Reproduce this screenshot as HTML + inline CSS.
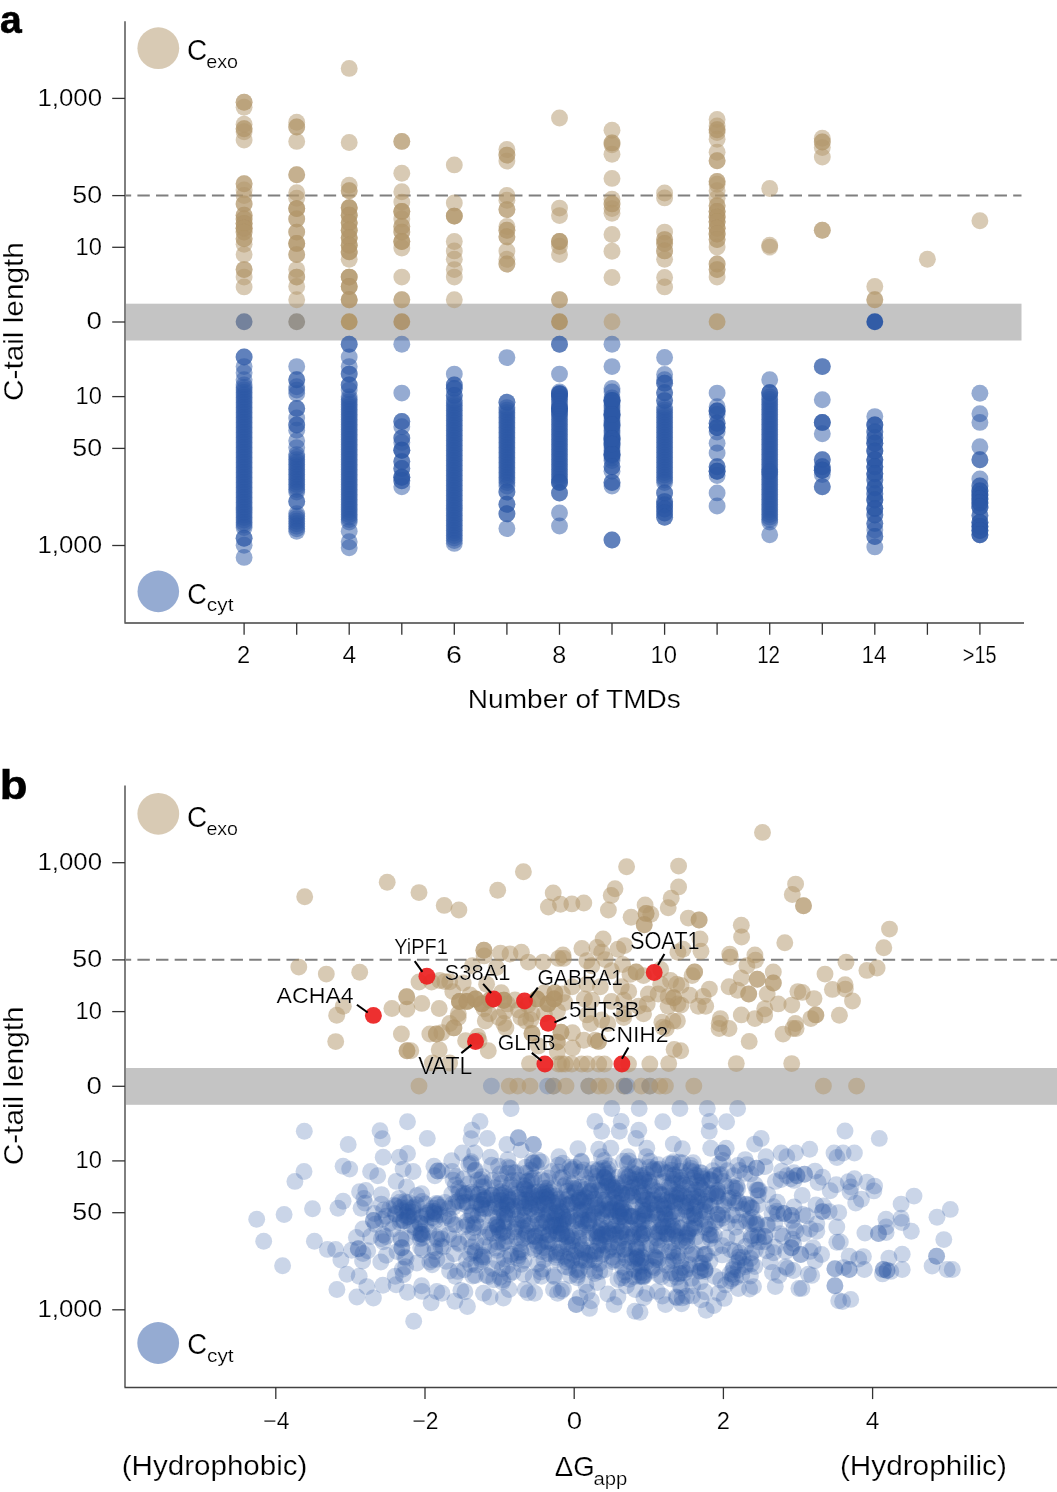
<!DOCTYPE html>
<html><head><meta charset="utf-8"><style>
html,body{margin:0;padding:0;background:#fff;overflow:hidden;}
svg{display:block;font-family:"Liberation Sans", sans-serif;will-change:transform;}
text{fill:#000;}
text.t{stroke:#fff;stroke-width:0.22px;}
</style></head><body>
<svg width="1057" height="1492" viewBox="0 0 1057 1492">
<rect width="1057" height="1492" fill="#fff"/>
<rect x="125.9" y="303.7" width="895.6" height="36.8" fill="#c4c4c4"/>
<line x1="125.9" y1="195.5" x2="1021.5" y2="195.5" stroke="#7f7f7f" stroke-width="2" stroke-dasharray="12.4 6.234" stroke-dashoffset="7.134"/>
<line x1="125" y1="21.2" x2="125" y2="622.6" stroke="#727272" stroke-width="1.8"/>
<line x1="124.4" y1="623.1" x2="1024" y2="623.1" stroke="#424242" stroke-width="1.5"/>
<line x1="112.2" y1="98.4" x2="125" y2="98.4" stroke="#333" stroke-width="1.3"/>
<text class="t" x="37.43" y="105.69" font-size="23.70" font-weight="normal" textLength="64.67" lengthAdjust="spacingAndGlyphs" >1,000</text>
<line x1="112.2" y1="195.6" x2="125" y2="195.6" stroke="#333" stroke-width="1.3"/>
<text class="t" x="72.33" y="202.89" font-size="23.70" font-weight="normal" textLength="29.81" lengthAdjust="spacingAndGlyphs" >50</text>
<line x1="112.2" y1="247.3" x2="125" y2="247.3" stroke="#333" stroke-width="1.3"/>
<text class="t" x="75.60" y="254.59" font-size="23.70" font-weight="normal" textLength="26.40" lengthAdjust="spacingAndGlyphs" >10</text>
<line x1="112.2" y1="322.0" x2="125" y2="322.0" stroke="#333" stroke-width="1.3"/>
<text class="t" x="86.59" y="329.29" font-size="23.70" font-weight="normal" textLength="15.41" lengthAdjust="spacingAndGlyphs" >0</text>
<line x1="112.2" y1="396.6" x2="125" y2="396.6" stroke="#333" stroke-width="1.3"/>
<text class="t" x="75.60" y="403.89" font-size="23.70" font-weight="normal" textLength="26.40" lengthAdjust="spacingAndGlyphs" >10</text>
<line x1="112.2" y1="448.4" x2="125" y2="448.4" stroke="#333" stroke-width="1.3"/>
<text class="t" x="72.33" y="455.69" font-size="23.70" font-weight="normal" textLength="29.81" lengthAdjust="spacingAndGlyphs" >50</text>
<line x1="112.2" y1="545.5" x2="125" y2="545.5" stroke="#333" stroke-width="1.3"/>
<text class="t" x="37.43" y="552.79" font-size="23.70" font-weight="normal" textLength="64.67" lengthAdjust="spacingAndGlyphs" >1,000</text>
<line x1="244.1" y1="623.1" x2="244.1" y2="634.8" stroke="#333" stroke-width="1.3"/>
<line x1="296.7" y1="623.1" x2="296.7" y2="634.8" stroke="#333" stroke-width="1.3"/>
<line x1="349.2" y1="623.1" x2="349.2" y2="634.8" stroke="#333" stroke-width="1.3"/>
<line x1="401.8" y1="623.1" x2="401.8" y2="634.8" stroke="#333" stroke-width="1.3"/>
<line x1="454.3" y1="623.1" x2="454.3" y2="634.8" stroke="#333" stroke-width="1.3"/>
<line x1="506.9" y1="623.1" x2="506.9" y2="634.8" stroke="#333" stroke-width="1.3"/>
<line x1="559.5" y1="623.1" x2="559.5" y2="634.8" stroke="#333" stroke-width="1.3"/>
<line x1="612.0" y1="623.1" x2="612.0" y2="634.8" stroke="#333" stroke-width="1.3"/>
<line x1="664.6" y1="623.1" x2="664.6" y2="634.8" stroke="#333" stroke-width="1.3"/>
<line x1="717.1" y1="623.1" x2="717.1" y2="634.8" stroke="#333" stroke-width="1.3"/>
<line x1="769.7" y1="623.1" x2="769.7" y2="634.8" stroke="#333" stroke-width="1.3"/>
<line x1="822.3" y1="623.1" x2="822.3" y2="634.8" stroke="#333" stroke-width="1.3"/>
<line x1="874.8" y1="623.1" x2="874.8" y2="634.8" stroke="#333" stroke-width="1.3"/>
<line x1="927.4" y1="623.1" x2="927.4" y2="634.8" stroke="#333" stroke-width="1.3"/>
<line x1="979.9" y1="623.1" x2="979.9" y2="634.8" stroke="#333" stroke-width="1.3"/>
<text class="t" x="236.92" y="662.99" font-size="23.70" font-weight="normal" textLength="13.18" lengthAdjust="spacingAndGlyphs" >2</text>
<text class="t" x="342.41" y="662.75" font-size="23.70" font-weight="normal" textLength="13.63" lengthAdjust="spacingAndGlyphs" >4</text>
<text class="t" x="445.97" y="662.99" font-size="23.70" font-weight="normal" textLength="15.96" lengthAdjust="spacingAndGlyphs" >6</text>
<text class="t" x="552.20" y="662.99" font-size="23.70" font-weight="normal" textLength="13.97" lengthAdjust="spacingAndGlyphs" >8</text>
<text class="t" x="650.49" y="662.99" font-size="23.70" font-weight="normal" textLength="26.52" lengthAdjust="spacingAndGlyphs" >10</text>
<text class="t" x="757.15" y="662.99" font-size="23.70" font-weight="normal" textLength="22.93" lengthAdjust="spacingAndGlyphs" >12</text>
<text class="t" x="861.49" y="662.75" font-size="23.70" font-weight="normal" textLength="25.14" lengthAdjust="spacingAndGlyphs" >14</text>
<text class="t" x="962.81" y="662.75" font-size="23.70" font-weight="normal" textLength="33.72" lengthAdjust="spacingAndGlyphs" >&gt;15</text>
<text class="t" x="467.86" y="708.34" font-size="25.54" font-weight="normal" textLength="213.01" lengthAdjust="spacingAndGlyphs" >Number of TMDs</text>
<text x="-0.07" y="33.41" font-size="39.27" font-weight="bold" textLength="21.73" lengthAdjust="spacingAndGlyphs" stroke="#000" stroke-width="0.6">a</text>
<text class="t" transform="translate(23.10,400.99) rotate(-90)" x="0" y="0" font-size="27.13" font-weight="normal" textLength="158.85" lengthAdjust="spacingAndGlyphs">C-tail length</text>
<circle cx="158.3" cy="48.2" r="20.9" fill="rgb(178,150,105)" fill-opacity="0.5"/>
<text class="t" x="187.10" y="59.61" font-size="28.87" font-weight="normal" textLength="20.18" lengthAdjust="spacingAndGlyphs" >C</text>
<text class="t" x="206.21" y="67.71" font-size="19.09" font-weight="normal" textLength="31.83" lengthAdjust="spacingAndGlyphs" >exo</text>
<circle cx="158.3" cy="591.4" r="20.8" fill="rgb(44,88,165)" fill-opacity="0.5"/>
<text class="t" x="187.34" y="603.51" font-size="28.73" font-weight="normal" textLength="19.60" lengthAdjust="spacingAndGlyphs" >C</text>
<text class="t" x="206.87" y="611.20" font-size="19.06" font-weight="normal" textLength="26.60" lengthAdjust="spacingAndGlyphs" >cyt</text>
<g fill="rgb(178,150,105)" fill-opacity="0.5"><circle cx="244.1" cy="102.2" r="8.45"/><circle cx="244.1" cy="102.2" r="8.45"/><circle cx="244.1" cy="107.3" r="8.45"/><circle cx="244.1" cy="124.2" r="8.45"/><circle cx="244.1" cy="128.8" r="8.45"/><circle cx="244.1" cy="128.8" r="8.45"/><circle cx="244.1" cy="131.7" r="8.45"/><circle cx="244.1" cy="140.1" r="8.45"/><circle cx="244.1" cy="183.7" r="8.45"/><circle cx="244.1" cy="183.7" r="8.45"/><circle cx="244.1" cy="189.9" r="8.45"/><circle cx="244.1" cy="195.5" r="8.45"/><circle cx="244.1" cy="203.9" r="8.45"/><circle cx="244.1" cy="203.9" r="8.45"/><circle cx="244.1" cy="215.2" r="8.45"/><circle cx="244.1" cy="215.2" r="8.45"/><circle cx="244.1" cy="218.9" r="8.45"/><circle cx="244.1" cy="218.9" r="8.45"/><circle cx="244.1" cy="223.6" r="8.45"/><circle cx="244.1" cy="223.6" r="8.45"/><circle cx="244.1" cy="223.6" r="8.45"/><circle cx="244.1" cy="228.3" r="8.45"/><circle cx="244.1" cy="228.3" r="8.45"/><circle cx="244.1" cy="228.3" r="8.45"/><circle cx="244.1" cy="232.1" r="8.45"/><circle cx="244.1" cy="232.1" r="8.45"/><circle cx="244.1" cy="238.7" r="8.45"/><circle cx="244.1" cy="238.7" r="8.45"/><circle cx="244.1" cy="244.3" r="8.45"/><circle cx="244.1" cy="254.6" r="8.45"/><circle cx="244.1" cy="269.6" r="8.45"/><circle cx="244.1" cy="269.6" r="8.45"/><circle cx="244.1" cy="277.1" r="8.45"/><circle cx="244.1" cy="286.9" r="8.45"/><circle cx="296.7" cy="122.3" r="8.45"/><circle cx="296.7" cy="127.0" r="8.45"/><circle cx="296.7" cy="127.0" r="8.45"/><circle cx="296.7" cy="141.4" r="8.45"/><circle cx="296.7" cy="174.8" r="8.45"/><circle cx="296.7" cy="174.8" r="8.45"/><circle cx="296.7" cy="192.7" r="8.45"/><circle cx="296.7" cy="198.3" r="8.45"/><circle cx="296.7" cy="208.6" r="8.45"/><circle cx="296.7" cy="208.6" r="8.45"/><circle cx="296.7" cy="208.6" r="8.45"/><circle cx="296.7" cy="219.0" r="8.45"/><circle cx="296.7" cy="219.0" r="8.45"/><circle cx="296.7" cy="232.1" r="8.45"/><circle cx="296.7" cy="232.1" r="8.45"/><circle cx="296.7" cy="243.4" r="8.45"/><circle cx="296.7" cy="243.4" r="8.45"/><circle cx="296.7" cy="243.4" r="8.45"/><circle cx="296.7" cy="254.6" r="8.45"/><circle cx="296.7" cy="254.6" r="8.45"/><circle cx="296.7" cy="269.6" r="8.45"/><circle cx="296.7" cy="277.1" r="8.45"/><circle cx="296.7" cy="277.1" r="8.45"/><circle cx="296.7" cy="286.5" r="8.45"/><circle cx="296.7" cy="299.7" r="8.45"/><circle cx="349.2" cy="68.4" r="8.45"/><circle cx="349.2" cy="142.5" r="8.45"/><circle cx="349.2" cy="185.2" r="8.45"/><circle cx="349.2" cy="190.8" r="8.45"/><circle cx="349.2" cy="190.8" r="8.45"/><circle cx="349.2" cy="207.7" r="8.45"/><circle cx="349.2" cy="207.7" r="8.45"/><circle cx="349.2" cy="207.7" r="8.45"/><circle cx="349.2" cy="215.2" r="8.45"/><circle cx="349.2" cy="215.2" r="8.45"/><circle cx="349.2" cy="215.2" r="8.45"/><circle cx="349.2" cy="222.7" r="8.45"/><circle cx="349.2" cy="222.7" r="8.45"/><circle cx="349.2" cy="222.7" r="8.45"/><circle cx="349.2" cy="230.2" r="8.45"/><circle cx="349.2" cy="230.2" r="8.45"/><circle cx="349.2" cy="230.2" r="8.45"/><circle cx="349.2" cy="237.7" r="8.45"/><circle cx="349.2" cy="237.7" r="8.45"/><circle cx="349.2" cy="237.7" r="8.45"/><circle cx="349.2" cy="245.2" r="8.45"/><circle cx="349.2" cy="245.2" r="8.45"/><circle cx="349.2" cy="245.2" r="8.45"/><circle cx="349.2" cy="251.8" r="8.45"/><circle cx="349.2" cy="251.8" r="8.45"/><circle cx="349.2" cy="251.8" r="8.45"/><circle cx="349.2" cy="259.3" r="8.45"/><circle cx="349.2" cy="277.1" r="8.45"/><circle cx="349.2" cy="277.1" r="8.45"/><circle cx="349.2" cy="277.1" r="8.45"/><circle cx="349.2" cy="286.5" r="8.45"/><circle cx="349.2" cy="286.5" r="8.45"/><circle cx="349.2" cy="286.5" r="8.45"/><circle cx="349.2" cy="299.7" r="8.45"/><circle cx="349.2" cy="299.7" r="8.45"/><circle cx="349.2" cy="299.7" r="8.45"/><circle cx="401.8" cy="141.4" r="8.45"/><circle cx="401.8" cy="141.4" r="8.45"/><circle cx="401.8" cy="173.3" r="8.45"/><circle cx="401.8" cy="191.7" r="8.45"/><circle cx="401.8" cy="202.1" r="8.45"/><circle cx="401.8" cy="211.4" r="8.45"/><circle cx="401.8" cy="211.4" r="8.45"/><circle cx="401.8" cy="211.4" r="8.45"/><circle cx="401.8" cy="219.0" r="8.45"/><circle cx="401.8" cy="226.5" r="8.45"/><circle cx="401.8" cy="226.5" r="8.45"/><circle cx="401.8" cy="232.1" r="8.45"/><circle cx="401.8" cy="232.1" r="8.45"/><circle cx="401.8" cy="241.5" r="8.45"/><circle cx="401.8" cy="241.5" r="8.45"/><circle cx="401.8" cy="241.5" r="8.45"/><circle cx="401.8" cy="248.0" r="8.45"/><circle cx="401.8" cy="277.1" r="8.45"/><circle cx="401.8" cy="299.7" r="8.45"/><circle cx="401.8" cy="299.7" r="8.45"/><circle cx="454.3" cy="164.9" r="8.45"/><circle cx="454.3" cy="203.0" r="8.45"/><circle cx="454.3" cy="216.1" r="8.45"/><circle cx="454.3" cy="216.1" r="8.45"/><circle cx="454.3" cy="216.1" r="8.45"/><circle cx="454.3" cy="241.5" r="8.45"/><circle cx="454.3" cy="250.9" r="8.45"/><circle cx="454.3" cy="259.3" r="8.45"/><circle cx="454.3" cy="269.6" r="8.45"/><circle cx="454.3" cy="277.1" r="8.45"/><circle cx="454.3" cy="299.7" r="8.45"/><circle cx="506.9" cy="149.5" r="8.45"/><circle cx="506.9" cy="155.1" r="8.45"/><circle cx="506.9" cy="155.1" r="8.45"/><circle cx="506.9" cy="161.1" r="8.45"/><circle cx="506.9" cy="195.5" r="8.45"/><circle cx="506.9" cy="200.2" r="8.45"/><circle cx="506.9" cy="209.6" r="8.45"/><circle cx="506.9" cy="209.6" r="8.45"/><circle cx="506.9" cy="226.5" r="8.45"/><circle cx="506.9" cy="230.2" r="8.45"/><circle cx="506.9" cy="230.2" r="8.45"/><circle cx="506.9" cy="236.8" r="8.45"/><circle cx="506.9" cy="236.8" r="8.45"/><circle cx="506.9" cy="250.9" r="8.45"/><circle cx="506.9" cy="259.3" r="8.45"/><circle cx="506.9" cy="264.0" r="8.45"/><circle cx="506.9" cy="264.0" r="8.45"/><circle cx="559.5" cy="118.0" r="8.45"/><circle cx="559.5" cy="208.1" r="8.45"/><circle cx="559.5" cy="215.6" r="8.45"/><circle cx="559.5" cy="241.5" r="8.45"/><circle cx="559.5" cy="241.5" r="8.45"/><circle cx="559.5" cy="241.5" r="8.45"/><circle cx="559.5" cy="246.2" r="8.45"/><circle cx="559.5" cy="254.6" r="8.45"/><circle cx="559.5" cy="299.7" r="8.45"/><circle cx="559.5" cy="299.7" r="8.45"/><circle cx="612.0" cy="130.3" r="8.45"/><circle cx="612.0" cy="142.9" r="8.45"/><circle cx="612.0" cy="142.9" r="8.45"/><circle cx="612.0" cy="144.8" r="8.45"/><circle cx="612.0" cy="154.2" r="8.45"/><circle cx="612.0" cy="178.4" r="8.45"/><circle cx="612.0" cy="199.2" r="8.45"/><circle cx="612.0" cy="203.9" r="8.45"/><circle cx="612.0" cy="203.9" r="8.45"/><circle cx="612.0" cy="208.6" r="8.45"/><circle cx="612.0" cy="213.3" r="8.45"/><circle cx="612.0" cy="234.5" r="8.45"/><circle cx="612.0" cy="251.2" r="8.45"/><circle cx="612.0" cy="277.5" r="8.45"/><circle cx="664.6" cy="193.0" r="8.45"/><circle cx="664.6" cy="197.9" r="8.45"/><circle cx="664.6" cy="232.1" r="8.45"/><circle cx="664.6" cy="239.6" r="8.45"/><circle cx="664.6" cy="239.6" r="8.45"/><circle cx="664.6" cy="243.4" r="8.45"/><circle cx="664.6" cy="243.4" r="8.45"/><circle cx="664.6" cy="250.9" r="8.45"/><circle cx="664.6" cy="250.9" r="8.45"/><circle cx="664.6" cy="259.3" r="8.45"/><circle cx="664.6" cy="277.5" r="8.45"/><circle cx="664.6" cy="286.9" r="8.45"/><circle cx="717.1" cy="119.5" r="8.45"/><circle cx="717.1" cy="126.0" r="8.45"/><circle cx="717.1" cy="129.8" r="8.45"/><circle cx="717.1" cy="129.8" r="8.45"/><circle cx="717.1" cy="132.6" r="8.45"/><circle cx="717.1" cy="139.2" r="8.45"/><circle cx="717.1" cy="152.3" r="8.45"/><circle cx="717.1" cy="160.8" r="8.45"/><circle cx="717.1" cy="160.8" r="8.45"/><circle cx="717.1" cy="181.4" r="8.45"/><circle cx="717.1" cy="181.4" r="8.45"/><circle cx="717.1" cy="184.2" r="8.45"/><circle cx="717.1" cy="190.8" r="8.45"/><circle cx="717.1" cy="198.3" r="8.45"/><circle cx="717.1" cy="205.8" r="8.45"/><circle cx="717.1" cy="205.8" r="8.45"/><circle cx="717.1" cy="211.4" r="8.45"/><circle cx="717.1" cy="211.4" r="8.45"/><circle cx="717.1" cy="211.4" r="8.45"/><circle cx="717.1" cy="217.1" r="8.45"/><circle cx="717.1" cy="217.1" r="8.45"/><circle cx="717.1" cy="217.1" r="8.45"/><circle cx="717.1" cy="221.8" r="8.45"/><circle cx="717.1" cy="221.8" r="8.45"/><circle cx="717.1" cy="221.8" r="8.45"/><circle cx="717.1" cy="228.3" r="8.45"/><circle cx="717.1" cy="228.3" r="8.45"/><circle cx="717.1" cy="228.3" r="8.45"/><circle cx="717.1" cy="234.0" r="8.45"/><circle cx="717.1" cy="234.0" r="8.45"/><circle cx="717.1" cy="234.0" r="8.45"/><circle cx="717.1" cy="239.6" r="8.45"/><circle cx="717.1" cy="239.6" r="8.45"/><circle cx="717.1" cy="247.1" r="8.45"/><circle cx="717.1" cy="264.0" r="8.45"/><circle cx="717.1" cy="264.0" r="8.45"/><circle cx="717.1" cy="269.6" r="8.45"/><circle cx="717.1" cy="269.6" r="8.45"/><circle cx="717.1" cy="277.1" r="8.45"/><circle cx="769.7" cy="188.5" r="8.45"/><circle cx="769.7" cy="245.2" r="8.45"/><circle cx="769.7" cy="247.1" r="8.45"/><circle cx="822.3" cy="138.2" r="8.45"/><circle cx="822.3" cy="142.0" r="8.45"/><circle cx="822.3" cy="142.0" r="8.45"/><circle cx="822.3" cy="147.6" r="8.45"/><circle cx="822.3" cy="157.0" r="8.45"/><circle cx="822.3" cy="230.2" r="8.45"/><circle cx="822.3" cy="230.2" r="8.45"/><circle cx="874.8" cy="286.5" r="8.45"/><circle cx="874.8" cy="299.7" r="8.45"/><circle cx="874.8" cy="299.7" r="8.45"/><circle cx="927.4" cy="259.3" r="8.45"/><circle cx="979.9" cy="220.8" r="8.45"/></g>
<g fill="rgb(44,88,165)" fill-opacity="0.5"><circle cx="244.1" cy="357.0" r="8.45"/><circle cx="244.1" cy="357.0" r="8.45"/><circle cx="244.1" cy="366.6" r="8.45"/><circle cx="244.1" cy="372.7" r="8.45"/><circle cx="244.1" cy="379.7" r="8.45"/><circle cx="244.1" cy="385.0" r="8.45"/><circle cx="244.1" cy="387.5" r="8.45"/><circle cx="244.1" cy="390.0" r="8.45"/><circle cx="244.1" cy="392.5" r="8.45"/><circle cx="244.1" cy="395.0" r="8.45"/><circle cx="244.1" cy="397.5" r="8.45"/><circle cx="244.1" cy="400.0" r="8.45"/><circle cx="244.1" cy="402.5" r="8.45"/><circle cx="244.1" cy="405.0" r="8.45"/><circle cx="244.1" cy="407.5" r="8.45"/><circle cx="244.1" cy="410.0" r="8.45"/><circle cx="244.1" cy="412.5" r="8.45"/><circle cx="244.1" cy="415.0" r="8.45"/><circle cx="244.1" cy="417.5" r="8.45"/><circle cx="244.1" cy="420.0" r="8.45"/><circle cx="244.1" cy="422.5" r="8.45"/><circle cx="244.1" cy="425.0" r="8.45"/><circle cx="244.1" cy="427.5" r="8.45"/><circle cx="244.1" cy="430.0" r="8.45"/><circle cx="244.1" cy="432.5" r="8.45"/><circle cx="244.1" cy="435.0" r="8.45"/><circle cx="244.1" cy="437.5" r="8.45"/><circle cx="244.1" cy="440.0" r="8.45"/><circle cx="244.1" cy="442.5" r="8.45"/><circle cx="244.1" cy="445.0" r="8.45"/><circle cx="244.1" cy="447.5" r="8.45"/><circle cx="244.1" cy="450.0" r="8.45"/><circle cx="244.1" cy="452.5" r="8.45"/><circle cx="244.1" cy="455.0" r="8.45"/><circle cx="244.1" cy="457.5" r="8.45"/><circle cx="244.1" cy="460.0" r="8.45"/><circle cx="244.1" cy="462.5" r="8.45"/><circle cx="244.1" cy="465.0" r="8.45"/><circle cx="244.1" cy="467.5" r="8.45"/><circle cx="244.1" cy="470.0" r="8.45"/><circle cx="244.1" cy="472.5" r="8.45"/><circle cx="244.1" cy="475.0" r="8.45"/><circle cx="244.1" cy="477.5" r="8.45"/><circle cx="244.1" cy="480.0" r="8.45"/><circle cx="244.1" cy="482.5" r="8.45"/><circle cx="244.1" cy="485.0" r="8.45"/><circle cx="244.1" cy="487.5" r="8.45"/><circle cx="244.1" cy="490.0" r="8.45"/><circle cx="244.1" cy="492.5" r="8.45"/><circle cx="244.1" cy="495.0" r="8.45"/><circle cx="244.1" cy="497.5" r="8.45"/><circle cx="244.1" cy="500.0" r="8.45"/><circle cx="244.1" cy="502.5" r="8.45"/><circle cx="244.1" cy="505.0" r="8.45"/><circle cx="244.1" cy="507.5" r="8.45"/><circle cx="244.1" cy="510.0" r="8.45"/><circle cx="244.1" cy="512.5" r="8.45"/><circle cx="244.1" cy="515.0" r="8.45"/><circle cx="244.1" cy="517.5" r="8.45"/><circle cx="244.1" cy="520.0" r="8.45"/><circle cx="244.1" cy="522.5" r="8.45"/><circle cx="244.1" cy="525.0" r="8.45"/><circle cx="244.1" cy="527.5" r="8.45"/><circle cx="244.1" cy="538.2" r="8.45"/><circle cx="244.1" cy="538.2" r="8.45"/><circle cx="244.1" cy="545.2" r="8.45"/><circle cx="244.1" cy="557.4" r="8.45"/><circle cx="296.7" cy="366.6" r="8.45"/><circle cx="296.7" cy="379.7" r="8.45"/><circle cx="296.7" cy="379.7" r="8.45"/><circle cx="296.7" cy="386.7" r="8.45"/><circle cx="296.7" cy="390.1" r="8.45"/><circle cx="296.7" cy="393.6" r="8.45"/><circle cx="296.7" cy="408.4" r="8.45"/><circle cx="296.7" cy="408.4" r="8.45"/><circle cx="296.7" cy="418.0" r="8.45"/><circle cx="296.7" cy="425.0" r="8.45"/><circle cx="296.7" cy="425.0" r="8.45"/><circle cx="296.7" cy="430.2" r="8.45"/><circle cx="296.7" cy="440.7" r="8.45"/><circle cx="296.7" cy="447.6" r="8.45"/><circle cx="296.7" cy="454.6" r="8.45"/><circle cx="296.7" cy="457.1" r="8.45"/><circle cx="296.7" cy="459.6" r="8.45"/><circle cx="296.7" cy="462.1" r="8.45"/><circle cx="296.7" cy="464.6" r="8.45"/><circle cx="296.7" cy="467.1" r="8.45"/><circle cx="296.7" cy="469.6" r="8.45"/><circle cx="296.7" cy="472.1" r="8.45"/><circle cx="296.7" cy="474.6" r="8.45"/><circle cx="296.7" cy="477.1" r="8.45"/><circle cx="296.7" cy="479.6" r="8.45"/><circle cx="296.7" cy="482.1" r="8.45"/><circle cx="296.7" cy="484.6" r="8.45"/><circle cx="296.7" cy="487.1" r="8.45"/><circle cx="296.7" cy="489.6" r="8.45"/><circle cx="296.7" cy="492.1" r="8.45"/><circle cx="296.7" cy="501.6" r="8.45"/><circle cx="296.7" cy="501.6" r="8.45"/><circle cx="296.7" cy="513.8" r="8.45"/><circle cx="296.7" cy="516.3" r="8.45"/><circle cx="296.7" cy="518.8" r="8.45"/><circle cx="296.7" cy="521.3" r="8.45"/><circle cx="296.7" cy="523.8" r="8.45"/><circle cx="296.7" cy="526.3" r="8.45"/><circle cx="296.7" cy="528.8" r="8.45"/><circle cx="296.7" cy="531.3" r="8.45"/><circle cx="349.2" cy="344.3" r="8.45"/><circle cx="349.2" cy="344.3" r="8.45"/><circle cx="349.2" cy="357.0" r="8.45"/><circle cx="349.2" cy="366.6" r="8.45"/><circle cx="349.2" cy="374.1" r="8.45"/><circle cx="349.2" cy="374.1" r="8.45"/><circle cx="349.2" cy="384.9" r="8.45"/><circle cx="349.2" cy="384.9" r="8.45"/><circle cx="349.2" cy="390.1" r="8.45"/><circle cx="349.2" cy="397.0" r="8.45"/><circle cx="349.2" cy="399.5" r="8.45"/><circle cx="349.2" cy="402.0" r="8.45"/><circle cx="349.2" cy="404.5" r="8.45"/><circle cx="349.2" cy="407.0" r="8.45"/><circle cx="349.2" cy="409.5" r="8.45"/><circle cx="349.2" cy="412.0" r="8.45"/><circle cx="349.2" cy="414.5" r="8.45"/><circle cx="349.2" cy="417.0" r="8.45"/><circle cx="349.2" cy="419.5" r="8.45"/><circle cx="349.2" cy="422.0" r="8.45"/><circle cx="349.2" cy="424.5" r="8.45"/><circle cx="349.2" cy="427.0" r="8.45"/><circle cx="349.2" cy="429.5" r="8.45"/><circle cx="349.2" cy="432.0" r="8.45"/><circle cx="349.2" cy="434.5" r="8.45"/><circle cx="349.2" cy="437.0" r="8.45"/><circle cx="349.2" cy="439.5" r="8.45"/><circle cx="349.2" cy="442.0" r="8.45"/><circle cx="349.2" cy="444.5" r="8.45"/><circle cx="349.2" cy="447.0" r="8.45"/><circle cx="349.2" cy="449.5" r="8.45"/><circle cx="349.2" cy="452.0" r="8.45"/><circle cx="349.2" cy="454.5" r="8.45"/><circle cx="349.2" cy="457.0" r="8.45"/><circle cx="349.2" cy="459.5" r="8.45"/><circle cx="349.2" cy="462.0" r="8.45"/><circle cx="349.2" cy="464.5" r="8.45"/><circle cx="349.2" cy="467.0" r="8.45"/><circle cx="349.2" cy="469.5" r="8.45"/><circle cx="349.2" cy="472.0" r="8.45"/><circle cx="349.2" cy="474.5" r="8.45"/><circle cx="349.2" cy="477.0" r="8.45"/><circle cx="349.2" cy="479.5" r="8.45"/><circle cx="349.2" cy="482.0" r="8.45"/><circle cx="349.2" cy="484.5" r="8.45"/><circle cx="349.2" cy="487.0" r="8.45"/><circle cx="349.2" cy="489.5" r="8.45"/><circle cx="349.2" cy="492.0" r="8.45"/><circle cx="349.2" cy="494.5" r="8.45"/><circle cx="349.2" cy="497.0" r="8.45"/><circle cx="349.2" cy="499.5" r="8.45"/><circle cx="349.2" cy="502.0" r="8.45"/><circle cx="349.2" cy="504.5" r="8.45"/><circle cx="349.2" cy="507.0" r="8.45"/><circle cx="349.2" cy="509.5" r="8.45"/><circle cx="349.2" cy="512.0" r="8.45"/><circle cx="349.2" cy="514.5" r="8.45"/><circle cx="349.2" cy="517.0" r="8.45"/><circle cx="349.2" cy="519.5" r="8.45"/><circle cx="349.2" cy="522.0" r="8.45"/><circle cx="349.2" cy="531.3" r="8.45"/><circle cx="349.2" cy="541.7" r="8.45"/><circle cx="349.2" cy="547.8" r="8.45"/><circle cx="401.8" cy="344.3" r="8.45"/><circle cx="401.8" cy="393.1" r="8.45"/><circle cx="401.8" cy="421.5" r="8.45"/><circle cx="401.8" cy="421.5" r="8.45"/><circle cx="401.8" cy="426.7" r="8.45"/><circle cx="401.8" cy="438.0" r="8.45"/><circle cx="401.8" cy="438.0" r="8.45"/><circle cx="401.8" cy="442.4" r="8.45"/><circle cx="401.8" cy="450.2" r="8.45"/><circle cx="401.8" cy="450.2" r="8.45"/><circle cx="401.8" cy="450.2" r="8.45"/><circle cx="401.8" cy="461.6" r="8.45"/><circle cx="401.8" cy="461.6" r="8.45"/><circle cx="401.8" cy="468.5" r="8.45"/><circle cx="401.8" cy="468.5" r="8.45"/><circle cx="401.8" cy="477.2" r="8.45"/><circle cx="401.8" cy="477.2" r="8.45"/><circle cx="401.8" cy="477.2" r="8.45"/><circle cx="401.8" cy="480.7" r="8.45"/><circle cx="401.8" cy="480.7" r="8.45"/><circle cx="401.8" cy="486.8" r="8.45"/><circle cx="454.3" cy="374.1" r="8.45"/><circle cx="454.3" cy="384.9" r="8.45"/><circle cx="454.3" cy="384.9" r="8.45"/><circle cx="454.3" cy="388.4" r="8.45"/><circle cx="454.3" cy="388.4" r="8.45"/><circle cx="454.3" cy="395.4" r="8.45"/><circle cx="454.3" cy="395.4" r="8.45"/><circle cx="454.3" cy="400.6" r="8.45"/><circle cx="454.3" cy="403.1" r="8.45"/><circle cx="454.3" cy="405.6" r="8.45"/><circle cx="454.3" cy="408.1" r="8.45"/><circle cx="454.3" cy="410.6" r="8.45"/><circle cx="454.3" cy="413.1" r="8.45"/><circle cx="454.3" cy="415.6" r="8.45"/><circle cx="454.3" cy="418.1" r="8.45"/><circle cx="454.3" cy="420.6" r="8.45"/><circle cx="454.3" cy="423.1" r="8.45"/><circle cx="454.3" cy="425.6" r="8.45"/><circle cx="454.3" cy="428.1" r="8.45"/><circle cx="454.3" cy="430.6" r="8.45"/><circle cx="454.3" cy="433.1" r="8.45"/><circle cx="454.3" cy="435.6" r="8.45"/><circle cx="454.3" cy="438.1" r="8.45"/><circle cx="454.3" cy="440.6" r="8.45"/><circle cx="454.3" cy="443.1" r="8.45"/><circle cx="454.3" cy="445.6" r="8.45"/><circle cx="454.3" cy="448.1" r="8.45"/><circle cx="454.3" cy="450.6" r="8.45"/><circle cx="454.3" cy="453.1" r="8.45"/><circle cx="454.3" cy="455.6" r="8.45"/><circle cx="454.3" cy="458.1" r="8.45"/><circle cx="454.3" cy="460.6" r="8.45"/><circle cx="454.3" cy="463.1" r="8.45"/><circle cx="454.3" cy="465.6" r="8.45"/><circle cx="454.3" cy="468.1" r="8.45"/><circle cx="454.3" cy="470.6" r="8.45"/><circle cx="454.3" cy="473.1" r="8.45"/><circle cx="454.3" cy="475.6" r="8.45"/><circle cx="454.3" cy="478.1" r="8.45"/><circle cx="454.3" cy="480.6" r="8.45"/><circle cx="454.3" cy="483.1" r="8.45"/><circle cx="454.3" cy="485.6" r="8.45"/><circle cx="454.3" cy="488.1" r="8.45"/><circle cx="454.3" cy="490.6" r="8.45"/><circle cx="454.3" cy="493.1" r="8.45"/><circle cx="454.3" cy="495.6" r="8.45"/><circle cx="454.3" cy="498.1" r="8.45"/><circle cx="454.3" cy="500.6" r="8.45"/><circle cx="454.3" cy="503.1" r="8.45"/><circle cx="454.3" cy="505.6" r="8.45"/><circle cx="454.3" cy="508.1" r="8.45"/><circle cx="454.3" cy="510.6" r="8.45"/><circle cx="454.3" cy="513.1" r="8.45"/><circle cx="454.3" cy="515.6" r="8.45"/><circle cx="454.3" cy="518.1" r="8.45"/><circle cx="454.3" cy="520.6" r="8.45"/><circle cx="454.3" cy="523.1" r="8.45"/><circle cx="454.3" cy="525.6" r="8.45"/><circle cx="454.3" cy="528.1" r="8.45"/><circle cx="454.3" cy="530.6" r="8.45"/><circle cx="454.3" cy="533.1" r="8.45"/><circle cx="454.3" cy="535.6" r="8.45"/><circle cx="454.3" cy="538.1" r="8.45"/><circle cx="454.3" cy="540.6" r="8.45"/><circle cx="454.3" cy="543.4" r="8.45"/><circle cx="506.9" cy="357.6" r="8.45"/><circle cx="506.9" cy="402.3" r="8.45"/><circle cx="506.9" cy="402.3" r="8.45"/><circle cx="506.9" cy="407.6" r="8.45"/><circle cx="506.9" cy="410.1" r="8.45"/><circle cx="506.9" cy="412.6" r="8.45"/><circle cx="506.9" cy="415.1" r="8.45"/><circle cx="506.9" cy="417.6" r="8.45"/><circle cx="506.9" cy="420.1" r="8.45"/><circle cx="506.9" cy="422.6" r="8.45"/><circle cx="506.9" cy="425.1" r="8.45"/><circle cx="506.9" cy="427.6" r="8.45"/><circle cx="506.9" cy="430.1" r="8.45"/><circle cx="506.9" cy="432.6" r="8.45"/><circle cx="506.9" cy="435.1" r="8.45"/><circle cx="506.9" cy="437.6" r="8.45"/><circle cx="506.9" cy="440.1" r="8.45"/><circle cx="506.9" cy="442.6" r="8.45"/><circle cx="506.9" cy="445.1" r="8.45"/><circle cx="506.9" cy="447.6" r="8.45"/><circle cx="506.9" cy="450.1" r="8.45"/><circle cx="506.9" cy="452.6" r="8.45"/><circle cx="506.9" cy="455.1" r="8.45"/><circle cx="506.9" cy="457.6" r="8.45"/><circle cx="506.9" cy="460.1" r="8.45"/><circle cx="506.9" cy="462.6" r="8.45"/><circle cx="506.9" cy="465.1" r="8.45"/><circle cx="506.9" cy="467.6" r="8.45"/><circle cx="506.9" cy="470.1" r="8.45"/><circle cx="506.9" cy="472.6" r="8.45"/><circle cx="506.9" cy="475.1" r="8.45"/><circle cx="506.9" cy="477.6" r="8.45"/><circle cx="506.9" cy="480.1" r="8.45"/><circle cx="506.9" cy="482.6" r="8.45"/><circle cx="506.9" cy="486.0" r="8.45"/><circle cx="506.9" cy="492.0" r="8.45"/><circle cx="506.9" cy="492.0" r="8.45"/><circle cx="506.9" cy="504.3" r="8.45"/><circle cx="506.9" cy="504.3" r="8.45"/><circle cx="506.9" cy="513.8" r="8.45"/><circle cx="506.9" cy="513.8" r="8.45"/><circle cx="506.9" cy="528.6" r="8.45"/><circle cx="559.5" cy="344.3" r="8.45"/><circle cx="559.5" cy="344.3" r="8.45"/><circle cx="559.5" cy="374.1" r="8.45"/><circle cx="559.5" cy="393.6" r="8.45"/><circle cx="559.5" cy="393.6" r="8.45"/><circle cx="559.5" cy="393.6" r="8.45"/><circle cx="559.5" cy="397.1" r="8.45"/><circle cx="559.5" cy="408.4" r="8.45"/><circle cx="559.5" cy="408.4" r="8.45"/><circle cx="559.5" cy="408.4" r="8.45"/><circle cx="559.5" cy="412.8" r="8.45"/><circle cx="559.5" cy="392.0" r="8.45"/><circle cx="559.5" cy="394.5" r="8.45"/><circle cx="559.5" cy="397.0" r="8.45"/><circle cx="559.5" cy="399.5" r="8.45"/><circle cx="559.5" cy="402.0" r="8.45"/><circle cx="559.5" cy="404.5" r="8.45"/><circle cx="559.5" cy="407.0" r="8.45"/><circle cx="559.5" cy="409.5" r="8.45"/><circle cx="559.5" cy="412.0" r="8.45"/><circle cx="559.5" cy="414.5" r="8.45"/><circle cx="559.5" cy="417.0" r="8.45"/><circle cx="559.5" cy="419.5" r="8.45"/><circle cx="559.5" cy="422.0" r="8.45"/><circle cx="559.5" cy="424.5" r="8.45"/><circle cx="559.5" cy="427.0" r="8.45"/><circle cx="559.5" cy="429.5" r="8.45"/><circle cx="559.5" cy="432.0" r="8.45"/><circle cx="559.5" cy="434.5" r="8.45"/><circle cx="559.5" cy="437.0" r="8.45"/><circle cx="559.5" cy="439.5" r="8.45"/><circle cx="559.5" cy="442.0" r="8.45"/><circle cx="559.5" cy="444.5" r="8.45"/><circle cx="559.5" cy="447.0" r="8.45"/><circle cx="559.5" cy="449.5" r="8.45"/><circle cx="559.5" cy="452.0" r="8.45"/><circle cx="559.5" cy="454.5" r="8.45"/><circle cx="559.5" cy="457.0" r="8.45"/><circle cx="559.5" cy="459.5" r="8.45"/><circle cx="559.5" cy="462.0" r="8.45"/><circle cx="559.5" cy="464.5" r="8.45"/><circle cx="559.5" cy="467.0" r="8.45"/><circle cx="559.5" cy="469.5" r="8.45"/><circle cx="559.5" cy="472.0" r="8.45"/><circle cx="559.5" cy="474.5" r="8.45"/><circle cx="559.5" cy="477.0" r="8.45"/><circle cx="559.5" cy="479.5" r="8.45"/><circle cx="559.5" cy="482.0" r="8.45"/><circle cx="559.5" cy="482.5" r="8.45"/><circle cx="559.5" cy="482.5" r="8.45"/><circle cx="559.5" cy="493.0" r="8.45"/><circle cx="559.5" cy="493.0" r="8.45"/><circle cx="559.5" cy="513.0" r="8.45"/><circle cx="559.5" cy="526.0" r="8.45"/><circle cx="612.0" cy="344.3" r="8.45"/><circle cx="612.0" cy="366.6" r="8.45"/><circle cx="612.0" cy="388.4" r="8.45"/><circle cx="612.0" cy="391.9" r="8.45"/><circle cx="612.0" cy="398.0" r="8.45"/><circle cx="612.0" cy="400.5" r="8.45"/><circle cx="612.0" cy="403.0" r="8.45"/><circle cx="612.0" cy="405.5" r="8.45"/><circle cx="612.0" cy="408.0" r="8.45"/><circle cx="612.0" cy="410.5" r="8.45"/><circle cx="612.0" cy="413.0" r="8.45"/><circle cx="612.0" cy="415.5" r="8.45"/><circle cx="612.0" cy="418.0" r="8.45"/><circle cx="612.0" cy="420.5" r="8.45"/><circle cx="612.0" cy="423.0" r="8.45"/><circle cx="612.0" cy="425.5" r="8.45"/><circle cx="612.0" cy="428.0" r="8.45"/><circle cx="612.0" cy="430.5" r="8.45"/><circle cx="612.0" cy="433.0" r="8.45"/><circle cx="612.0" cy="435.5" r="8.45"/><circle cx="612.0" cy="438.0" r="8.45"/><circle cx="612.0" cy="440.5" r="8.45"/><circle cx="612.0" cy="443.0" r="8.45"/><circle cx="612.0" cy="445.5" r="8.45"/><circle cx="612.0" cy="448.0" r="8.45"/><circle cx="612.0" cy="450.5" r="8.45"/><circle cx="612.0" cy="453.0" r="8.45"/><circle cx="612.0" cy="455.5" r="8.45"/><circle cx="612.0" cy="458.0" r="8.45"/><circle cx="612.0" cy="460.5" r="8.45"/><circle cx="612.0" cy="400.6" r="8.45"/><circle cx="612.0" cy="400.6" r="8.45"/><circle cx="612.0" cy="400.6" r="8.45"/><circle cx="612.0" cy="414.5" r="8.45"/><circle cx="612.0" cy="414.5" r="8.45"/><circle cx="612.0" cy="414.5" r="8.45"/><circle cx="612.0" cy="425.0" r="8.45"/><circle cx="612.0" cy="425.0" r="8.45"/><circle cx="612.0" cy="438.9" r="8.45"/><circle cx="612.0" cy="438.9" r="8.45"/><circle cx="612.0" cy="438.9" r="8.45"/><circle cx="612.0" cy="444.1" r="8.45"/><circle cx="612.0" cy="444.1" r="8.45"/><circle cx="612.0" cy="454.6" r="8.45"/><circle cx="612.0" cy="454.6" r="8.45"/><circle cx="612.0" cy="454.6" r="8.45"/><circle cx="612.0" cy="466.8" r="8.45"/><circle cx="612.0" cy="466.8" r="8.45"/><circle cx="612.0" cy="471.2" r="8.45"/><circle cx="612.0" cy="482.5" r="8.45"/><circle cx="612.0" cy="482.5" r="8.45"/><circle cx="612.0" cy="486.0" r="8.45"/><circle cx="612.0" cy="540.0" r="8.45"/><circle cx="612.0" cy="540.0" r="8.45"/><circle cx="664.6" cy="357.4" r="8.45"/><circle cx="664.6" cy="374.5" r="8.45"/><circle cx="664.6" cy="379.7" r="8.45"/><circle cx="664.6" cy="383.2" r="8.45"/><circle cx="664.6" cy="383.2" r="8.45"/><circle cx="664.6" cy="392.8" r="8.45"/><circle cx="664.6" cy="392.8" r="8.45"/><circle cx="664.6" cy="400.6" r="8.45"/><circle cx="664.6" cy="400.6" r="8.45"/><circle cx="664.6" cy="407.6" r="8.45"/><circle cx="664.6" cy="410.1" r="8.45"/><circle cx="664.6" cy="412.6" r="8.45"/><circle cx="664.6" cy="415.1" r="8.45"/><circle cx="664.6" cy="417.6" r="8.45"/><circle cx="664.6" cy="420.1" r="8.45"/><circle cx="664.6" cy="422.6" r="8.45"/><circle cx="664.6" cy="425.1" r="8.45"/><circle cx="664.6" cy="427.6" r="8.45"/><circle cx="664.6" cy="430.1" r="8.45"/><circle cx="664.6" cy="432.6" r="8.45"/><circle cx="664.6" cy="435.1" r="8.45"/><circle cx="664.6" cy="437.6" r="8.45"/><circle cx="664.6" cy="440.1" r="8.45"/><circle cx="664.6" cy="442.6" r="8.45"/><circle cx="664.6" cy="445.1" r="8.45"/><circle cx="664.6" cy="447.6" r="8.45"/><circle cx="664.6" cy="450.1" r="8.45"/><circle cx="664.6" cy="452.6" r="8.45"/><circle cx="664.6" cy="455.1" r="8.45"/><circle cx="664.6" cy="457.6" r="8.45"/><circle cx="664.6" cy="460.1" r="8.45"/><circle cx="664.6" cy="462.6" r="8.45"/><circle cx="664.6" cy="465.1" r="8.45"/><circle cx="664.6" cy="467.6" r="8.45"/><circle cx="664.6" cy="470.1" r="8.45"/><circle cx="664.6" cy="472.6" r="8.45"/><circle cx="664.6" cy="475.1" r="8.45"/><circle cx="664.6" cy="477.6" r="8.45"/><circle cx="664.6" cy="480.1" r="8.45"/><circle cx="664.6" cy="482.6" r="8.45"/><circle cx="664.6" cy="493.0" r="8.45"/><circle cx="664.6" cy="493.0" r="8.45"/><circle cx="664.6" cy="501.6" r="8.45"/><circle cx="664.6" cy="501.6" r="8.45"/><circle cx="664.6" cy="505.0" r="8.45"/><circle cx="664.6" cy="505.0" r="8.45"/><circle cx="664.6" cy="509.0" r="8.45"/><circle cx="664.6" cy="509.0" r="8.45"/><circle cx="664.6" cy="513.0" r="8.45"/><circle cx="664.6" cy="513.0" r="8.45"/><circle cx="664.6" cy="517.3" r="8.45"/><circle cx="664.6" cy="517.3" r="8.45"/><circle cx="717.1" cy="393.1" r="8.45"/><circle cx="717.1" cy="406.7" r="8.45"/><circle cx="717.1" cy="411.0" r="8.45"/><circle cx="717.1" cy="411.0" r="8.45"/><circle cx="717.1" cy="411.0" r="8.45"/><circle cx="717.1" cy="414.5" r="8.45"/><circle cx="717.1" cy="423.2" r="8.45"/><circle cx="717.1" cy="423.2" r="8.45"/><circle cx="717.1" cy="427.6" r="8.45"/><circle cx="717.1" cy="427.6" r="8.45"/><circle cx="717.1" cy="427.6" r="8.45"/><circle cx="717.1" cy="432.0" r="8.45"/><circle cx="717.1" cy="443.3" r="8.45"/><circle cx="717.1" cy="452.9" r="8.45"/><circle cx="717.1" cy="466.8" r="8.45"/><circle cx="717.1" cy="466.8" r="8.45"/><circle cx="717.1" cy="471.2" r="8.45"/><circle cx="717.1" cy="471.2" r="8.45"/><circle cx="717.1" cy="471.2" r="8.45"/><circle cx="717.1" cy="475.5" r="8.45"/><circle cx="717.1" cy="492.9" r="8.45"/><circle cx="717.1" cy="506.0" r="8.45"/><circle cx="769.7" cy="379.7" r="8.45"/><circle cx="769.7" cy="392.8" r="8.45"/><circle cx="769.7" cy="392.8" r="8.45"/><circle cx="769.7" cy="392.8" r="8.45"/><circle cx="769.7" cy="397.0" r="8.45"/><circle cx="769.7" cy="399.5" r="8.45"/><circle cx="769.7" cy="402.0" r="8.45"/><circle cx="769.7" cy="404.5" r="8.45"/><circle cx="769.7" cy="407.0" r="8.45"/><circle cx="769.7" cy="409.5" r="8.45"/><circle cx="769.7" cy="412.0" r="8.45"/><circle cx="769.7" cy="414.5" r="8.45"/><circle cx="769.7" cy="417.0" r="8.45"/><circle cx="769.7" cy="419.5" r="8.45"/><circle cx="769.7" cy="422.0" r="8.45"/><circle cx="769.7" cy="424.5" r="8.45"/><circle cx="769.7" cy="427.0" r="8.45"/><circle cx="769.7" cy="429.5" r="8.45"/><circle cx="769.7" cy="432.0" r="8.45"/><circle cx="769.7" cy="434.5" r="8.45"/><circle cx="769.7" cy="437.0" r="8.45"/><circle cx="769.7" cy="439.5" r="8.45"/><circle cx="769.7" cy="442.0" r="8.45"/><circle cx="769.7" cy="444.5" r="8.45"/><circle cx="769.7" cy="447.0" r="8.45"/><circle cx="769.7" cy="449.5" r="8.45"/><circle cx="769.7" cy="452.0" r="8.45"/><circle cx="769.7" cy="454.5" r="8.45"/><circle cx="769.7" cy="457.0" r="8.45"/><circle cx="769.7" cy="459.5" r="8.45"/><circle cx="769.7" cy="462.0" r="8.45"/><circle cx="769.7" cy="464.5" r="8.45"/><circle cx="769.7" cy="467.0" r="8.45"/><circle cx="769.7" cy="469.5" r="8.45"/><circle cx="769.7" cy="472.0" r="8.45"/><circle cx="769.7" cy="472.0" r="8.45"/><circle cx="769.7" cy="474.5" r="8.45"/><circle cx="769.7" cy="477.0" r="8.45"/><circle cx="769.7" cy="479.5" r="8.45"/><circle cx="769.7" cy="482.0" r="8.45"/><circle cx="769.7" cy="484.5" r="8.45"/><circle cx="769.7" cy="487.0" r="8.45"/><circle cx="769.7" cy="489.5" r="8.45"/><circle cx="769.7" cy="492.0" r="8.45"/><circle cx="769.7" cy="494.5" r="8.45"/><circle cx="769.7" cy="497.0" r="8.45"/><circle cx="769.7" cy="499.5" r="8.45"/><circle cx="769.7" cy="502.0" r="8.45"/><circle cx="769.7" cy="504.5" r="8.45"/><circle cx="769.7" cy="507.0" r="8.45"/><circle cx="769.7" cy="509.5" r="8.45"/><circle cx="769.7" cy="512.0" r="8.45"/><circle cx="769.7" cy="514.5" r="8.45"/><circle cx="769.7" cy="517.0" r="8.45"/><circle cx="769.7" cy="519.5" r="8.45"/><circle cx="769.7" cy="522.0" r="8.45"/><circle cx="769.7" cy="534.7" r="8.45"/><circle cx="822.3" cy="366.6" r="8.45"/><circle cx="822.3" cy="366.6" r="8.45"/><circle cx="822.3" cy="399.7" r="8.45"/><circle cx="822.3" cy="422.4" r="8.45"/><circle cx="822.3" cy="422.4" r="8.45"/><circle cx="822.3" cy="422.4" r="8.45"/><circle cx="822.3" cy="433.7" r="8.45"/><circle cx="822.3" cy="459.8" r="8.45"/><circle cx="822.3" cy="459.8" r="8.45"/><circle cx="822.3" cy="466.8" r="8.45"/><circle cx="822.3" cy="466.8" r="8.45"/><circle cx="822.3" cy="470.3" r="8.45"/><circle cx="822.3" cy="470.3" r="8.45"/><circle cx="822.3" cy="470.3" r="8.45"/><circle cx="822.3" cy="474.6" r="8.45"/><circle cx="822.3" cy="486.8" r="8.45"/><circle cx="822.3" cy="486.8" r="8.45"/><circle cx="874.8" cy="416.6" r="8.45"/><circle cx="874.8" cy="425.0" r="8.45"/><circle cx="874.8" cy="425.0" r="8.45"/><circle cx="874.8" cy="425.0" r="8.45"/><circle cx="874.8" cy="432.0" r="8.45"/><circle cx="874.8" cy="432.0" r="8.45"/><circle cx="874.8" cy="438.0" r="8.45"/><circle cx="874.8" cy="438.0" r="8.45"/><circle cx="874.8" cy="443.3" r="8.45"/><circle cx="874.8" cy="443.3" r="8.45"/><circle cx="874.8" cy="443.3" r="8.45"/><circle cx="874.8" cy="451.1" r="8.45"/><circle cx="874.8" cy="451.1" r="8.45"/><circle cx="874.8" cy="451.1" r="8.45"/><circle cx="874.8" cy="459.8" r="8.45"/><circle cx="874.8" cy="459.8" r="8.45"/><circle cx="874.8" cy="459.8" r="8.45"/><circle cx="874.8" cy="466.8" r="8.45"/><circle cx="874.8" cy="466.8" r="8.45"/><circle cx="874.8" cy="466.8" r="8.45"/><circle cx="874.8" cy="473.8" r="8.45"/><circle cx="874.8" cy="473.8" r="8.45"/><circle cx="874.8" cy="473.8" r="8.45"/><circle cx="874.8" cy="480.0" r="8.45"/><circle cx="874.8" cy="480.0" r="8.45"/><circle cx="874.8" cy="487.7" r="8.45"/><circle cx="874.8" cy="487.7" r="8.45"/><circle cx="874.8" cy="487.7" r="8.45"/><circle cx="874.8" cy="494.0" r="8.45"/><circle cx="874.8" cy="494.0" r="8.45"/><circle cx="874.8" cy="500.0" r="8.45"/><circle cx="874.8" cy="500.0" r="8.45"/><circle cx="874.8" cy="500.0" r="8.45"/><circle cx="874.8" cy="508.6" r="8.45"/><circle cx="874.8" cy="508.6" r="8.45"/><circle cx="874.8" cy="508.6" r="8.45"/><circle cx="874.8" cy="515.0" r="8.45"/><circle cx="874.8" cy="515.0" r="8.45"/><circle cx="874.8" cy="523.4" r="8.45"/><circle cx="874.8" cy="523.4" r="8.45"/><circle cx="874.8" cy="530.0" r="8.45"/><circle cx="874.8" cy="536.5" r="8.45"/><circle cx="874.8" cy="536.5" r="8.45"/><circle cx="874.8" cy="546.9" r="8.45"/><circle cx="979.9" cy="393.3" r="8.45"/><circle cx="979.9" cy="413.7" r="8.45"/><circle cx="979.9" cy="422.4" r="8.45"/><circle cx="979.9" cy="446.8" r="8.45"/><circle cx="979.9" cy="459.8" r="8.45"/><circle cx="979.9" cy="459.8" r="8.45"/><circle cx="979.9" cy="479.0" r="8.45"/><circle cx="979.9" cy="486.0" r="8.45"/><circle cx="979.9" cy="486.0" r="8.45"/><circle cx="979.9" cy="491.0" r="8.45"/><circle cx="979.9" cy="491.0" r="8.45"/><circle cx="979.9" cy="491.0" r="8.45"/><circle cx="979.9" cy="495.0" r="8.45"/><circle cx="979.9" cy="495.0" r="8.45"/><circle cx="979.9" cy="495.0" r="8.45"/><circle cx="979.9" cy="499.0" r="8.45"/><circle cx="979.9" cy="499.0" r="8.45"/><circle cx="979.9" cy="499.0" r="8.45"/><circle cx="979.9" cy="503.0" r="8.45"/><circle cx="979.9" cy="503.0" r="8.45"/><circle cx="979.9" cy="503.0" r="8.45"/><circle cx="979.9" cy="506.9" r="8.45"/><circle cx="979.9" cy="506.9" r="8.45"/><circle cx="979.9" cy="506.9" r="8.45"/><circle cx="979.9" cy="515.6" r="8.45"/><circle cx="979.9" cy="515.6" r="8.45"/><circle cx="979.9" cy="522.5" r="8.45"/><circle cx="979.9" cy="522.5" r="8.45"/><circle cx="979.9" cy="522.5" r="8.45"/><circle cx="979.9" cy="526.5" r="8.45"/><circle cx="979.9" cy="526.5" r="8.45"/><circle cx="979.9" cy="526.5" r="8.45"/><circle cx="979.9" cy="530.5" r="8.45"/><circle cx="979.9" cy="530.5" r="8.45"/><circle cx="979.9" cy="530.5" r="8.45"/><circle cx="979.9" cy="534.7" r="8.45"/><circle cx="979.9" cy="534.7" r="8.45"/><circle cx="979.9" cy="534.7" r="8.45"/></g>
<circle cx="244.1" cy="321.8" r="8.45" fill="rgb(116,130,156)"/>
<circle cx="296.7" cy="321.8" r="8.45" fill="rgb(150,146,139)"/>
<circle cx="349.2" cy="321.8" r="8.45" fill="rgb(178,152,108)"/>
<circle cx="401.8" cy="321.8" r="8.45" fill="rgb(175,150,112)"/>
<circle cx="559.5" cy="321.8" r="8.45" fill="rgb(176,151,110)"/>
<circle cx="612.0" cy="321.8" r="8.45" fill="rgb(188,172,147)"/>
<circle cx="717.1" cy="321.8" r="8.45" fill="rgb(183,163,130)"/>
<circle cx="874.8" cy="321.8" r="8.45" fill="rgb(50,92,166)"/>
<rect x="125.9" y="1068.0" width="931.1" height="36.8" fill="#c4c4c4"/>
<line x1="125.9" y1="959.8" x2="1057" y2="959.8" stroke="#7f7f7f" stroke-width="2" stroke-dasharray="12.4 6.234" stroke-dashoffset="7.134"/>
<line x1="125" y1="785.5" x2="125" y2="1386.9" stroke="#727272" stroke-width="1.8"/>
<line x1="124.4" y1="1387.4" x2="1057" y2="1387.4" stroke="#424242" stroke-width="1.5"/>
<line x1="112.2" y1="862.6999999999999" x2="125" y2="862.6999999999999" stroke="#333" stroke-width="1.3"/>
<text class="t" x="37.43" y="869.99" font-size="23.70" font-weight="normal" textLength="64.67" lengthAdjust="spacingAndGlyphs" >1,000</text>
<line x1="112.2" y1="959.9" x2="125" y2="959.9" stroke="#333" stroke-width="1.3"/>
<text class="t" x="72.33" y="967.19" font-size="23.70" font-weight="normal" textLength="29.81" lengthAdjust="spacingAndGlyphs" >50</text>
<line x1="112.2" y1="1011.5999999999999" x2="125" y2="1011.5999999999999" stroke="#333" stroke-width="1.3"/>
<text class="t" x="75.60" y="1018.89" font-size="23.70" font-weight="normal" textLength="26.40" lengthAdjust="spacingAndGlyphs" >10</text>
<line x1="112.2" y1="1086.3" x2="125" y2="1086.3" stroke="#333" stroke-width="1.3"/>
<text class="t" x="86.59" y="1093.59" font-size="23.70" font-weight="normal" textLength="15.41" lengthAdjust="spacingAndGlyphs" >0</text>
<line x1="112.2" y1="1160.9" x2="125" y2="1160.9" stroke="#333" stroke-width="1.3"/>
<text class="t" x="75.60" y="1168.19" font-size="23.70" font-weight="normal" textLength="26.40" lengthAdjust="spacingAndGlyphs" >10</text>
<line x1="112.2" y1="1212.6999999999998" x2="125" y2="1212.6999999999998" stroke="#333" stroke-width="1.3"/>
<text class="t" x="72.33" y="1219.99" font-size="23.70" font-weight="normal" textLength="29.81" lengthAdjust="spacingAndGlyphs" >50</text>
<line x1="112.2" y1="1309.8" x2="125" y2="1309.8" stroke="#333" stroke-width="1.3"/>
<text class="t" x="37.43" y="1317.09" font-size="23.70" font-weight="normal" textLength="64.67" lengthAdjust="spacingAndGlyphs" >1,000</text>
<line x1="275.8" y1="1387.4" x2="275.8" y2="1399.1" stroke="#333" stroke-width="1.3"/>
<text class="t" x="263.36" y="1428.65" font-size="23.70" font-weight="normal" textLength="26.03" lengthAdjust="spacingAndGlyphs" >&#8722;4</text>
<line x1="425.0" y1="1387.4" x2="425.0" y2="1399.1" stroke="#333" stroke-width="1.3"/>
<text class="t" x="412.46" y="1428.89" font-size="23.70" font-weight="normal" textLength="26.09" lengthAdjust="spacingAndGlyphs" >&#8722;2</text>
<line x1="574.2" y1="1387.4" x2="574.2" y2="1399.1" stroke="#333" stroke-width="1.3"/>
<text class="t" x="566.79" y="1428.89" font-size="23.70" font-weight="normal" textLength="15.41" lengthAdjust="spacingAndGlyphs" >0</text>
<line x1="723.4" y1="1387.4" x2="723.4" y2="1399.1" stroke="#333" stroke-width="1.3"/>
<text class="t" x="716.82" y="1428.89" font-size="23.70" font-weight="normal" textLength="13.18" lengthAdjust="spacingAndGlyphs" >2</text>
<line x1="872.6" y1="1387.4" x2="872.6" y2="1399.1" stroke="#333" stroke-width="1.3"/>
<text class="t" x="865.81" y="1428.65" font-size="23.70" font-weight="normal" textLength="13.63" lengthAdjust="spacingAndGlyphs" >4</text>
<text class="t" x="121.73" y="1475.37" font-size="26.81" font-weight="normal" textLength="185.76" lengthAdjust="spacingAndGlyphs" >(Hydrophobic)</text>
<text class="t" x="839.92" y="1475.37" font-size="26.81" font-weight="normal" textLength="166.94" lengthAdjust="spacingAndGlyphs" >(Hydrophilic)</text>
<text class="t" x="554.77" y="1476.32" font-size="27.89" font-weight="normal" textLength="39.82" lengthAdjust="spacingAndGlyphs" >&#916;G</text>
<text class="t" x="593.59" y="1484.92" font-size="18.93" font-weight="normal" textLength="33.79" lengthAdjust="spacingAndGlyphs" >app</text>
<text x="-0.18" y="798.70" font-size="40.68" font-weight="bold" textLength="27.74" lengthAdjust="spacingAndGlyphs" stroke="#000" stroke-width="0.6">b</text>
<text class="t" transform="translate(23.10,1165.29) rotate(-90)" x="0" y="0" font-size="27.13" font-weight="normal" textLength="158.85" lengthAdjust="spacingAndGlyphs">C-tail length</text>
<circle cx="158.3" cy="813.8" r="20.9" fill="rgb(178,150,105)" fill-opacity="0.5"/>
<text class="t" x="187.10" y="827.31" font-size="28.59" font-weight="normal" textLength="20.18" lengthAdjust="spacingAndGlyphs" >C</text>
<text class="t" x="206.42" y="835.21" font-size="19.09" font-weight="normal" textLength="31.61" lengthAdjust="spacingAndGlyphs" >exo</text>
<circle cx="158.2" cy="1343.0" r="20.9" fill="rgb(44,88,165)" fill-opacity="0.5"/>
<text class="t" x="187.13" y="1354.31" font-size="28.87" font-weight="normal" textLength="19.83" lengthAdjust="spacingAndGlyphs" >C</text>
<text class="t" x="206.96" y="1361.90" font-size="19.06" font-weight="normal" textLength="26.70" lengthAdjust="spacingAndGlyphs" >cyt</text>
<g fill="rgb(44,88,165)" fill-opacity="0.25"><circle cx="304.3" cy="1131.2" r="8.45"/><circle cx="348.2" cy="1144.5" r="8.45"/><circle cx="380.0" cy="1130.8" r="8.45"/><circle cx="382.3" cy="1138.8" r="8.45"/><circle cx="407.5" cy="1121.8" r="8.45"/><circle cx="427.3" cy="1138.4" r="8.45"/><circle cx="383.2" cy="1157.3" r="8.45"/><circle cx="399.5" cy="1157.1" r="8.45"/><circle cx="407.5" cy="1153.5" r="8.45"/><circle cx="433.9" cy="1166.2" r="8.45"/><circle cx="343.1" cy="1166.2" r="8.45"/><circle cx="349.7" cy="1169.1" r="8.45"/><circle cx="370.6" cy="1171.5" r="8.45"/><circle cx="377.7" cy="1175.7" r="8.45"/><circle cx="403.1" cy="1169.1" r="8.45"/><circle cx="413.1" cy="1171.5" r="8.45"/><circle cx="304.0" cy="1171.5" r="8.45"/><circle cx="294.9" cy="1181.4" r="8.45"/><circle cx="396.1" cy="1181.4" r="8.45"/><circle cx="406.5" cy="1187.0" r="8.45"/><circle cx="434.9" cy="1175.7" r="8.45"/><circle cx="437.7" cy="1171.0" r="8.45"/><circle cx="437.7" cy="1171.0" r="8.45"/><circle cx="359.6" cy="1191.8" r="8.45"/><circle cx="365.8" cy="1190.4" r="8.45"/><circle cx="381.5" cy="1194.6" r="8.45"/><circle cx="399.0" cy="1198.4" r="8.45"/><circle cx="421.6" cy="1193.7" r="8.45"/><circle cx="343.1" cy="1201.2" r="8.45"/><circle cx="338.0" cy="1208.2" r="8.45"/><circle cx="363.9" cy="1198.4" r="8.45"/><circle cx="364.9" cy="1203.1" r="8.45"/><circle cx="361.1" cy="1208.2" r="8.45"/><circle cx="312.5" cy="1208.8" r="8.45"/><circle cx="284.1" cy="1214.5" r="8.45"/><circle cx="256.7" cy="1219.2" r="8.45"/><circle cx="374.3" cy="1213.5" r="8.45"/><circle cx="389.5" cy="1208.8" r="8.45"/><circle cx="395.2" cy="1213.5" r="8.45"/><circle cx="417.1" cy="1195.4" r="8.45"/><circle cx="511.1" cy="1108.5" r="8.45"/><circle cx="480.0" cy="1121.4" r="8.45"/><circle cx="594.9" cy="1121.4" r="8.45"/><circle cx="471.9" cy="1130.3" r="8.45"/><circle cx="471.0" cy="1138.8" r="8.45"/><circle cx="487.4" cy="1138.4" r="8.45"/><circle cx="506.9" cy="1144.5" r="8.45"/><circle cx="518.3" cy="1137.8" r="8.45"/><circle cx="518.3" cy="1137.8" r="8.45"/><circle cx="521.1" cy="1150.1" r="8.45"/><circle cx="533.4" cy="1144.5" r="8.45"/><circle cx="533.4" cy="1144.5" r="8.45"/><circle cx="462.4" cy="1153.0" r="8.45"/><circle cx="474.7" cy="1153.0" r="8.45"/><circle cx="490.4" cy="1157.1" r="8.45"/><circle cx="507.9" cy="1159.6" r="8.45"/><circle cx="558.9" cy="1156.8" r="8.45"/><circle cx="577.9" cy="1148.8" r="8.45"/><circle cx="598.7" cy="1149.2" r="8.45"/><circle cx="611.8" cy="1108.5" r="8.45"/><circle cx="639.2" cy="1108.5" r="8.45"/><circle cx="679.9" cy="1108.5" r="8.45"/><circle cx="707.3" cy="1108.5" r="8.45"/><circle cx="737.6" cy="1108.5" r="8.45"/><circle cx="621.2" cy="1121.4" r="8.45"/><circle cx="662.8" cy="1121.8" r="8.45"/><circle cx="709.8" cy="1121.4" r="8.45"/><circle cx="726.6" cy="1121.8" r="8.45"/><circle cx="601.7" cy="1131.2" r="8.45"/><circle cx="619.3" cy="1131.2" r="8.45"/><circle cx="638.8" cy="1130.3" r="8.45"/><circle cx="636.0" cy="1138.4" r="8.45"/><circle cx="709.2" cy="1131.2" r="8.45"/><circle cx="761.2" cy="1138.4" r="8.45"/><circle cx="754.6" cy="1144.1" r="8.45"/><circle cx="673.3" cy="1144.1" r="8.45"/><circle cx="682.3" cy="1148.8" r="8.45"/><circle cx="646.8" cy="1148.2" r="8.45"/><circle cx="646.4" cy="1156.8" r="8.45"/><circle cx="710.7" cy="1148.2" r="8.45"/><circle cx="722.5" cy="1153.0" r="8.45"/><circle cx="722.5" cy="1153.0" r="8.45"/><circle cx="726.2" cy="1148.2" r="8.45"/><circle cx="610.8" cy="1148.2" r="8.45"/><circle cx="627.8" cy="1156.8" r="8.45"/><circle cx="601.4" cy="1156.8" r="8.45"/><circle cx="745.2" cy="1159.6" r="8.45"/><circle cx="766.0" cy="1156.8" r="8.45"/><circle cx="781.1" cy="1153.0" r="8.45"/><circle cx="786.8" cy="1156.8" r="8.45"/><circle cx="756.5" cy="1168.1" r="8.45"/><circle cx="756.5" cy="1168.1" r="8.45"/><circle cx="775.4" cy="1181.4" r="8.45"/><circle cx="767.9" cy="1194.6" r="8.45"/><circle cx="777.3" cy="1202.2" r="8.45"/><circle cx="786.8" cy="1175.7" r="8.45"/><circle cx="845.0" cy="1131.0" r="8.45"/><circle cx="795.4" cy="1153.0" r="8.45"/><circle cx="809.7" cy="1149.2" r="8.45"/><circle cx="834.0" cy="1153.0" r="8.45"/><circle cx="837.0" cy="1157.5" r="8.45"/><circle cx="843.1" cy="1153.0" r="8.45"/><circle cx="854.4" cy="1153.0" r="8.45"/><circle cx="765.1" cy="1166.6" r="8.45"/><circle cx="781.7" cy="1171.1" r="8.45"/><circle cx="793.9" cy="1172.7" r="8.45"/><circle cx="804.5" cy="1174.2" r="8.45"/><circle cx="804.5" cy="1174.2" r="8.45"/><circle cx="815.0" cy="1171.1" r="8.45"/><circle cx="822.6" cy="1177.2" r="8.45"/><circle cx="790.8" cy="1178.7" r="8.45"/><circle cx="818.1" cy="1182.5" r="8.45"/><circle cx="836.2" cy="1184.8" r="8.45"/><circle cx="848.3" cy="1181.7" r="8.45"/><circle cx="854.4" cy="1178.7" r="8.45"/><circle cx="830.2" cy="1190.8" r="8.45"/><circle cx="802.2" cy="1195.4" r="8.45"/><circle cx="879.3" cy="1138.4" r="8.45"/><circle cx="797.0" cy="1175.7" r="8.45"/><circle cx="797.0" cy="1175.7" r="8.45"/><circle cx="794.2" cy="1180.4" r="8.45"/><circle cx="781.0" cy="1179.5" r="8.45"/><circle cx="851.0" cy="1187.0" r="8.45"/><circle cx="867.0" cy="1182.3" r="8.45"/><circle cx="874.6" cy="1186.1" r="8.45"/><circle cx="861.4" cy="1199.3" r="8.45"/><circle cx="855.7" cy="1203.1" r="8.45"/><circle cx="816.0" cy="1205.0" r="8.45"/><circle cx="822.6" cy="1211.6" r="8.45"/><circle cx="822.6" cy="1211.6" r="8.45"/><circle cx="823.5" cy="1206.0" r="8.45"/><circle cx="829.2" cy="1211.6" r="8.45"/><circle cx="838.7" cy="1212.6" r="8.45"/><circle cx="802.7" cy="1214.5" r="8.45"/><circle cx="783.8" cy="1213.5" r="8.45"/><circle cx="783.8" cy="1213.5" r="8.45"/><circle cx="791.4" cy="1215.4" r="8.45"/><circle cx="791.4" cy="1215.4" r="8.45"/><circle cx="901.1" cy="1204.1" r="8.45"/><circle cx="914.0" cy="1196.1" r="8.45"/><circle cx="950.3" cy="1209.4" r="8.45"/><circle cx="937.0" cy="1217.3" r="8.45"/><circle cx="901.1" cy="1218.3" r="8.45"/><circle cx="886.0" cy="1219.2" r="8.45"/><circle cx="263.7" cy="1241.2" r="8.45"/><circle cx="282.6" cy="1265.8" r="8.45"/><circle cx="314.4" cy="1241.2" r="8.45"/><circle cx="327.4" cy="1249.4" r="8.45"/><circle cx="335.6" cy="1249.4" r="8.45"/><circle cx="340.9" cy="1260.1" r="8.45"/><circle cx="351.6" cy="1250.3" r="8.45"/><circle cx="356.4" cy="1237.4" r="8.45"/><circle cx="358.3" cy="1248.8" r="8.45"/><circle cx="358.3" cy="1248.8" r="8.45"/><circle cx="363.0" cy="1253.5" r="8.45"/><circle cx="367.7" cy="1250.7" r="8.45"/><circle cx="362.6" cy="1261.1" r="8.45"/><circle cx="363.0" cy="1228.9" r="8.45"/><circle cx="370.6" cy="1236.5" r="8.45"/><circle cx="373.4" cy="1220.4" r="8.45"/><circle cx="373.4" cy="1220.4" r="8.45"/><circle cx="375.3" cy="1224.2" r="8.45"/><circle cx="383.2" cy="1241.8" r="8.45"/><circle cx="389.5" cy="1223.2" r="8.45"/><circle cx="346.9" cy="1274.3" r="8.45"/><circle cx="359.2" cy="1276.2" r="8.45"/><circle cx="336.9" cy="1289.5" r="8.45"/><circle cx="356.9" cy="1297.0" r="8.45"/><circle cx="366.8" cy="1286.6" r="8.45"/><circle cx="373.4" cy="1298.0" r="8.45"/><circle cx="382.9" cy="1285.3" r="8.45"/><circle cx="395.2" cy="1276.2" r="8.45"/><circle cx="396.1" cy="1284.7" r="8.45"/><circle cx="407.5" cy="1292.3" r="8.45"/><circle cx="421.6" cy="1285.7" r="8.45"/><circle cx="422.0" cy="1291.4" r="8.45"/><circle cx="431.1" cy="1302.7" r="8.45"/><circle cx="436.8" cy="1291.4" r="8.45"/><circle cx="413.7" cy="1321.3" r="8.45"/><circle cx="405.6" cy="1266.8" r="8.45"/><circle cx="416.9" cy="1263.0" r="8.45"/><circle cx="432.0" cy="1260.1" r="8.45"/><circle cx="397.0" cy="1251.6" r="8.45"/><circle cx="401.8" cy="1247.8" r="8.45"/><circle cx="401.8" cy="1247.8" r="8.45"/><circle cx="400.8" cy="1238.4" r="8.45"/><circle cx="420.7" cy="1247.8" r="8.45"/><circle cx="421.3" cy="1234.2" r="8.45"/><circle cx="421.3" cy="1234.2" r="8.45"/><circle cx="434.9" cy="1247.8" r="8.45"/><circle cx="436.8" cy="1259.2" r="8.45"/><circle cx="441.9" cy="1293.3" r="8.45"/><circle cx="454.8" cy="1301.2" r="8.45"/><circle cx="467.4" cy="1306.5" r="8.45"/><circle cx="483.5" cy="1293.3" r="8.45"/><circle cx="490.1" cy="1297.0" r="8.45"/><circle cx="503.4" cy="1298.0" r="8.45"/><circle cx="509.1" cy="1289.5" r="8.45"/><circle cx="509.1" cy="1274.3" r="8.45"/><circle cx="502.4" cy="1281.9" r="8.45"/><circle cx="534.6" cy="1293.3" r="8.45"/><circle cx="525.1" cy="1289.5" r="8.45"/><circle cx="553.5" cy="1289.5" r="8.45"/><circle cx="576.2" cy="1304.6" r="8.45"/><circle cx="576.2" cy="1304.6" r="8.45"/><circle cx="589.5" cy="1308.4" r="8.45"/><circle cx="591.4" cy="1300.8" r="8.45"/><circle cx="614.1" cy="1304.6" r="8.45"/><circle cx="617.9" cy="1297.0" r="8.45"/><circle cx="634.9" cy="1311.2" r="8.45"/><circle cx="626.4" cy="1285.7" r="8.45"/><circle cx="640.0" cy="1312.2" r="8.45"/><circle cx="665.5" cy="1304.6" r="8.45"/><circle cx="681.6" cy="1303.7" r="8.45"/><circle cx="706.2" cy="1310.3" r="8.45"/><circle cx="713.8" cy="1305.6" r="8.45"/><circle cx="718.5" cy="1293.3" r="8.45"/><circle cx="738.4" cy="1288.5" r="8.45"/><circle cx="753.5" cy="1286.6" r="8.45"/><circle cx="775.3" cy="1286.6" r="8.45"/><circle cx="798.9" cy="1288.5" r="8.45"/><circle cx="808.4" cy="1274.3" r="8.45"/><circle cx="793.3" cy="1270.5" r="8.45"/><circle cx="785.7" cy="1266.8" r="8.45"/><circle cx="772.5" cy="1272.4" r="8.45"/><circle cx="821.6" cy="1254.5" r="8.45"/><circle cx="813.1" cy="1247.8" r="8.45"/><circle cx="800.8" cy="1254.5" r="8.45"/><circle cx="791.4" cy="1247.8" r="8.45"/><circle cx="791.4" cy="1247.8" r="8.45"/><circle cx="785.7" cy="1251.6" r="8.45"/><circle cx="766.8" cy="1250.7" r="8.45"/><circle cx="764.9" cy="1236.5" r="8.45"/><circle cx="764.9" cy="1236.5" r="8.45"/><circle cx="780.0" cy="1233.7" r="8.45"/><circle cx="810.3" cy="1228.9" r="8.45"/><circle cx="806.5" cy="1215.7" r="8.45"/><circle cx="834.9" cy="1268.7" r="8.45"/><circle cx="834.9" cy="1268.7" r="8.45"/><circle cx="834.9" cy="1285.7" r="8.45"/><circle cx="834.9" cy="1285.7" r="8.45"/><circle cx="838.7" cy="1300.8" r="8.45"/><circle cx="836.8" cy="1242.2" r="8.45"/><circle cx="836.8" cy="1227.0" r="8.45"/><circle cx="850.1" cy="1191.9" r="8.45"/><circle cx="873.8" cy="1190.9" r="8.45"/><circle cx="943.8" cy="1239.6" r="8.45"/><circle cx="936.6" cy="1256.2" r="8.45"/><circle cx="936.6" cy="1256.2" r="8.45"/><circle cx="932.1" cy="1266.1" r="8.45"/><circle cx="947.2" cy="1269.5" r="8.45"/><circle cx="952.3" cy="1269.5" r="8.45"/><circle cx="840.3" cy="1242.0" r="8.45"/><circle cx="803.8" cy="1233.5" r="8.45"/><circle cx="801.9" cy="1288.4" r="8.45"/><circle cx="864.9" cy="1233.1" r="8.45"/><circle cx="878.5" cy="1233.5" r="8.45"/><circle cx="878.5" cy="1233.5" r="8.45"/><circle cx="886.1" cy="1226.9" r="8.45"/><circle cx="886.1" cy="1232.6" r="8.45"/><circle cx="901.8" cy="1222.5" r="8.45"/><circle cx="911.3" cy="1231.2" r="8.45"/><circle cx="849.2" cy="1256.2" r="8.45"/><circle cx="863.4" cy="1256.6" r="8.45"/><circle cx="858.7" cy="1259.1" r="8.45"/><circle cx="849.2" cy="1269.5" r="8.45"/><circle cx="849.2" cy="1269.5" r="8.45"/><circle cx="843.5" cy="1267.6" r="8.45"/><circle cx="864.3" cy="1269.5" r="8.45"/><circle cx="842.6" cy="1301.6" r="8.45"/><circle cx="850.7" cy="1299.4" r="8.45"/><circle cx="888.9" cy="1258.1" r="8.45"/><circle cx="902.2" cy="1254.3" r="8.45"/><circle cx="883.3" cy="1269.5" r="8.45"/><circle cx="883.3" cy="1269.5" r="8.45"/><circle cx="887.0" cy="1270.4" r="8.45"/><circle cx="887.0" cy="1270.4" r="8.45"/><circle cx="890.8" cy="1271.4" r="8.45"/><circle cx="902.2" cy="1269.5" r="8.45"/><circle cx="882.5" cy="1273.9" r="8.45"/><circle cx="456.3" cy="1176.4" r="8.45"/><circle cx="451.7" cy="1160.7" r="8.45"/><circle cx="452.2" cy="1171.5" r="8.45"/><circle cx="441.5" cy="1170.9" r="8.45"/><circle cx="475.5" cy="1169.9" r="8.45"/><circle cx="471.0" cy="1163.4" r="8.45"/><circle cx="468.8" cy="1164.4" r="8.45"/><circle cx="471.3" cy="1161.8" r="8.45"/><circle cx="463.6" cy="1179.0" r="8.45"/><circle cx="474.9" cy="1170.7" r="8.45"/><circle cx="498.6" cy="1166.1" r="8.45"/><circle cx="499.7" cy="1179.8" r="8.45"/><circle cx="482.5" cy="1176.7" r="8.45"/><circle cx="480.7" cy="1179.5" r="8.45"/><circle cx="491.7" cy="1165.3" r="8.45"/><circle cx="500.2" cy="1174.0" r="8.45"/><circle cx="516.1" cy="1172.8" r="8.45"/><circle cx="507.7" cy="1173.1" r="8.45"/><circle cx="510.0" cy="1168.1" r="8.45"/><circle cx="508.0" cy="1166.9" r="8.45"/><circle cx="513.6" cy="1172.6" r="8.45"/><circle cx="530.8" cy="1170.1" r="8.45"/><circle cx="532.2" cy="1161.1" r="8.45"/><circle cx="536.4" cy="1165.7" r="8.45"/><circle cx="531.6" cy="1178.6" r="8.45"/><circle cx="533.9" cy="1163.0" r="8.45"/><circle cx="525.7" cy="1173.2" r="8.45"/><circle cx="533.7" cy="1178.1" r="8.45"/><circle cx="538.4" cy="1160.3" r="8.45"/><circle cx="525.6" cy="1167.2" r="8.45"/><circle cx="532.8" cy="1163.2" r="8.45"/><circle cx="558.4" cy="1165.3" r="8.45"/><circle cx="548.5" cy="1178.0" r="8.45"/><circle cx="551.9" cy="1171.4" r="8.45"/><circle cx="541.7" cy="1179.9" r="8.45"/><circle cx="541.4" cy="1161.9" r="8.45"/><circle cx="558.6" cy="1172.0" r="8.45"/><circle cx="562.6" cy="1177.3" r="8.45"/><circle cx="572.1" cy="1169.3" r="8.45"/><circle cx="571.3" cy="1170.8" r="8.45"/><circle cx="574.8" cy="1167.5" r="8.45"/><circle cx="560.2" cy="1178.3" r="8.45"/><circle cx="562.8" cy="1163.3" r="8.45"/><circle cx="569.9" cy="1167.2" r="8.45"/><circle cx="595.9" cy="1176.5" r="8.45"/><circle cx="593.1" cy="1169.4" r="8.45"/><circle cx="581.3" cy="1161.2" r="8.45"/><circle cx="585.5" cy="1177.4" r="8.45"/><circle cx="580.6" cy="1172.3" r="8.45"/><circle cx="581.4" cy="1161.9" r="8.45"/><circle cx="591.6" cy="1173.2" r="8.45"/><circle cx="598.2" cy="1169.8" r="8.45"/><circle cx="583.8" cy="1170.0" r="8.45"/><circle cx="597.8" cy="1170.9" r="8.45"/><circle cx="604.1" cy="1177.1" r="8.45"/><circle cx="618.1" cy="1177.2" r="8.45"/><circle cx="605.0" cy="1178.0" r="8.45"/><circle cx="607.7" cy="1173.3" r="8.45"/><circle cx="604.3" cy="1177.5" r="8.45"/><circle cx="607.6" cy="1179.8" r="8.45"/><circle cx="609.5" cy="1165.8" r="8.45"/><circle cx="604.3" cy="1160.4" r="8.45"/><circle cx="604.9" cy="1170.6" r="8.45"/><circle cx="603.2" cy="1168.1" r="8.45"/><circle cx="607.9" cy="1168.9" r="8.45"/><circle cx="607.0" cy="1175.0" r="8.45"/><circle cx="628.3" cy="1176.7" r="8.45"/><circle cx="635.5" cy="1174.0" r="8.45"/><circle cx="629.1" cy="1160.9" r="8.45"/><circle cx="632.5" cy="1172.8" r="8.45"/><circle cx="625.5" cy="1174.8" r="8.45"/><circle cx="638.7" cy="1166.8" r="8.45"/><circle cx="635.5" cy="1166.5" r="8.45"/><circle cx="623.5" cy="1161.3" r="8.45"/><circle cx="626.5" cy="1176.9" r="8.45"/><circle cx="627.4" cy="1163.7" r="8.45"/><circle cx="628.9" cy="1177.1" r="8.45"/><circle cx="635.3" cy="1179.5" r="8.45"/><circle cx="642.4" cy="1176.1" r="8.45"/><circle cx="649.9" cy="1161.2" r="8.45"/><circle cx="657.8" cy="1169.7" r="8.45"/><circle cx="646.5" cy="1174.1" r="8.45"/><circle cx="653.4" cy="1169.0" r="8.45"/><circle cx="649.5" cy="1167.2" r="8.45"/><circle cx="644.2" cy="1178.5" r="8.45"/><circle cx="640.2" cy="1175.3" r="8.45"/><circle cx="653.7" cy="1169.9" r="8.45"/><circle cx="658.0" cy="1164.8" r="8.45"/><circle cx="654.4" cy="1171.5" r="8.45"/><circle cx="673.2" cy="1175.4" r="8.45"/><circle cx="671.7" cy="1170.3" r="8.45"/><circle cx="665.5" cy="1172.8" r="8.45"/><circle cx="674.6" cy="1174.8" r="8.45"/><circle cx="673.5" cy="1161.8" r="8.45"/><circle cx="673.3" cy="1179.3" r="8.45"/><circle cx="660.3" cy="1169.0" r="8.45"/><circle cx="668.4" cy="1172.8" r="8.45"/><circle cx="676.8" cy="1177.4" r="8.45"/><circle cx="679.4" cy="1162.3" r="8.45"/><circle cx="672.7" cy="1163.7" r="8.45"/><circle cx="669.7" cy="1163.6" r="8.45"/><circle cx="680.7" cy="1177.8" r="8.45"/><circle cx="693.2" cy="1162.8" r="8.45"/><circle cx="695.8" cy="1175.3" r="8.45"/><circle cx="682.9" cy="1163.0" r="8.45"/><circle cx="691.3" cy="1168.5" r="8.45"/><circle cx="689.9" cy="1170.7" r="8.45"/><circle cx="693.7" cy="1171.8" r="8.45"/><circle cx="693.3" cy="1178.1" r="8.45"/><circle cx="700.0" cy="1172.5" r="8.45"/><circle cx="686.8" cy="1175.7" r="8.45"/><circle cx="680.3" cy="1171.1" r="8.45"/><circle cx="690.9" cy="1165.4" r="8.45"/><circle cx="712.9" cy="1170.7" r="8.45"/><circle cx="703.5" cy="1179.4" r="8.45"/><circle cx="701.9" cy="1176.3" r="8.45"/><circle cx="715.2" cy="1175.2" r="8.45"/><circle cx="701.6" cy="1173.1" r="8.45"/><circle cx="719.8" cy="1175.8" r="8.45"/><circle cx="714.2" cy="1175.8" r="8.45"/><circle cx="719.2" cy="1164.3" r="8.45"/><circle cx="710.7" cy="1179.4" r="8.45"/><circle cx="701.9" cy="1177.9" r="8.45"/><circle cx="720.8" cy="1174.5" r="8.45"/><circle cx="727.5" cy="1170.6" r="8.45"/><circle cx="722.7" cy="1160.4" r="8.45"/><circle cx="734.0" cy="1175.6" r="8.45"/><circle cx="737.8" cy="1165.5" r="8.45"/><circle cx="739.6" cy="1170.4" r="8.45"/><circle cx="750.7" cy="1173.9" r="8.45"/><circle cx="744.9" cy="1173.4" r="8.45"/><circle cx="747.1" cy="1164.6" r="8.45"/><circle cx="458.5" cy="1188.5" r="8.45"/><circle cx="455.4" cy="1184.9" r="8.45"/><circle cx="451.8" cy="1194.0" r="8.45"/><circle cx="459.0" cy="1192.2" r="8.45"/><circle cx="453.1" cy="1180.1" r="8.45"/><circle cx="465.0" cy="1194.8" r="8.45"/><circle cx="467.2" cy="1193.4" r="8.45"/><circle cx="477.7" cy="1180.3" r="8.45"/><circle cx="478.4" cy="1194.6" r="8.45"/><circle cx="463.8" cy="1193.3" r="8.45"/><circle cx="468.6" cy="1184.0" r="8.45"/><circle cx="462.8" cy="1195.9" r="8.45"/><circle cx="479.1" cy="1194.2" r="8.45"/><circle cx="471.9" cy="1192.3" r="8.45"/><circle cx="473.3" cy="1194.0" r="8.45"/><circle cx="484.4" cy="1186.7" r="8.45"/><circle cx="483.9" cy="1199.9" r="8.45"/><circle cx="492.3" cy="1194.9" r="8.45"/><circle cx="495.3" cy="1187.6" r="8.45"/><circle cx="497.7" cy="1196.2" r="8.45"/><circle cx="483.7" cy="1196.8" r="8.45"/><circle cx="481.5" cy="1186.9" r="8.45"/><circle cx="491.7" cy="1195.1" r="8.45"/><circle cx="484.7" cy="1198.9" r="8.45"/><circle cx="483.9" cy="1182.9" r="8.45"/><circle cx="492.4" cy="1180.4" r="8.45"/><circle cx="486.7" cy="1198.3" r="8.45"/><circle cx="516.2" cy="1194.0" r="8.45"/><circle cx="510.6" cy="1184.7" r="8.45"/><circle cx="518.3" cy="1180.2" r="8.45"/><circle cx="500.6" cy="1195.1" r="8.45"/><circle cx="512.5" cy="1180.7" r="8.45"/><circle cx="500.7" cy="1191.6" r="8.45"/><circle cx="508.6" cy="1197.4" r="8.45"/><circle cx="509.9" cy="1187.8" r="8.45"/><circle cx="511.5" cy="1200.0" r="8.45"/><circle cx="508.2" cy="1199.3" r="8.45"/><circle cx="518.6" cy="1197.3" r="8.45"/><circle cx="501.5" cy="1194.8" r="8.45"/><circle cx="507.8" cy="1196.3" r="8.45"/><circle cx="504.5" cy="1193.2" r="8.45"/><circle cx="501.7" cy="1183.3" r="8.45"/><circle cx="516.5" cy="1188.6" r="8.45"/><circle cx="528.0" cy="1180.9" r="8.45"/><circle cx="538.8" cy="1191.8" r="8.45"/><circle cx="533.8" cy="1192.2" r="8.45"/><circle cx="524.8" cy="1188.9" r="8.45"/><circle cx="527.5" cy="1190.2" r="8.45"/><circle cx="531.9" cy="1197.8" r="8.45"/><circle cx="525.0" cy="1194.1" r="8.45"/><circle cx="531.6" cy="1181.3" r="8.45"/><circle cx="539.2" cy="1195.7" r="8.45"/><circle cx="529.7" cy="1198.5" r="8.45"/><circle cx="524.1" cy="1189.1" r="8.45"/><circle cx="529.5" cy="1193.1" r="8.45"/><circle cx="531.9" cy="1194.2" r="8.45"/><circle cx="537.3" cy="1196.5" r="8.45"/><circle cx="524.1" cy="1184.9" r="8.45"/><circle cx="526.7" cy="1181.8" r="8.45"/><circle cx="525.0" cy="1186.1" r="8.45"/><circle cx="546.2" cy="1197.3" r="8.45"/><circle cx="549.6" cy="1192.8" r="8.45"/><circle cx="544.8" cy="1188.3" r="8.45"/><circle cx="555.4" cy="1196.2" r="8.45"/><circle cx="546.2" cy="1196.5" r="8.45"/><circle cx="547.9" cy="1198.6" r="8.45"/><circle cx="546.6" cy="1193.8" r="8.45"/><circle cx="553.9" cy="1187.7" r="8.45"/><circle cx="548.3" cy="1187.7" r="8.45"/><circle cx="545.8" cy="1191.1" r="8.45"/><circle cx="542.1" cy="1192.1" r="8.45"/><circle cx="558.0" cy="1199.7" r="8.45"/><circle cx="549.9" cy="1195.8" r="8.45"/><circle cx="559.1" cy="1198.7" r="8.45"/><circle cx="544.0" cy="1193.8" r="8.45"/><circle cx="542.5" cy="1197.7" r="8.45"/><circle cx="545.5" cy="1181.3" r="8.45"/><circle cx="565.2" cy="1184.7" r="8.45"/><circle cx="579.7" cy="1198.3" r="8.45"/><circle cx="574.3" cy="1192.7" r="8.45"/><circle cx="579.2" cy="1197.7" r="8.45"/><circle cx="573.9" cy="1188.1" r="8.45"/><circle cx="573.4" cy="1183.6" r="8.45"/><circle cx="564.1" cy="1186.4" r="8.45"/><circle cx="566.5" cy="1199.5" r="8.45"/><circle cx="575.8" cy="1190.8" r="8.45"/><circle cx="580.0" cy="1187.2" r="8.45"/><circle cx="566.8" cy="1191.2" r="8.45"/><circle cx="569.0" cy="1196.0" r="8.45"/><circle cx="570.8" cy="1183.3" r="8.45"/><circle cx="575.0" cy="1188.9" r="8.45"/><circle cx="595.2" cy="1198.7" r="8.45"/><circle cx="586.0" cy="1197.9" r="8.45"/><circle cx="590.1" cy="1191.3" r="8.45"/><circle cx="590.4" cy="1192.5" r="8.45"/><circle cx="598.7" cy="1190.1" r="8.45"/><circle cx="585.1" cy="1189.5" r="8.45"/><circle cx="596.4" cy="1181.8" r="8.45"/><circle cx="584.7" cy="1196.8" r="8.45"/><circle cx="588.0" cy="1183.4" r="8.45"/><circle cx="592.1" cy="1184.5" r="8.45"/><circle cx="590.7" cy="1191.0" r="8.45"/><circle cx="588.8" cy="1193.8" r="8.45"/><circle cx="594.0" cy="1199.2" r="8.45"/><circle cx="583.5" cy="1199.6" r="8.45"/><circle cx="616.4" cy="1183.8" r="8.45"/><circle cx="605.1" cy="1200.0" r="8.45"/><circle cx="613.5" cy="1198.2" r="8.45"/><circle cx="612.0" cy="1185.0" r="8.45"/><circle cx="601.5" cy="1190.5" r="8.45"/><circle cx="607.5" cy="1181.7" r="8.45"/><circle cx="608.5" cy="1186.0" r="8.45"/><circle cx="612.9" cy="1190.7" r="8.45"/><circle cx="616.6" cy="1196.9" r="8.45"/><circle cx="619.2" cy="1191.2" r="8.45"/><circle cx="612.6" cy="1187.1" r="8.45"/><circle cx="616.6" cy="1188.0" r="8.45"/><circle cx="615.9" cy="1187.9" r="8.45"/><circle cx="614.4" cy="1189.2" r="8.45"/><circle cx="600.8" cy="1185.0" r="8.45"/><circle cx="606.5" cy="1186.6" r="8.45"/><circle cx="602.2" cy="1191.4" r="8.45"/><circle cx="615.5" cy="1193.5" r="8.45"/><circle cx="607.6" cy="1182.6" r="8.45"/><circle cx="632.7" cy="1195.5" r="8.45"/><circle cx="622.1" cy="1193.5" r="8.45"/><circle cx="627.0" cy="1193.7" r="8.45"/><circle cx="631.0" cy="1188.0" r="8.45"/><circle cx="632.2" cy="1183.6" r="8.45"/><circle cx="629.4" cy="1192.7" r="8.45"/><circle cx="638.4" cy="1186.8" r="8.45"/><circle cx="621.7" cy="1199.9" r="8.45"/><circle cx="632.6" cy="1196.3" r="8.45"/><circle cx="621.9" cy="1193.5" r="8.45"/><circle cx="624.3" cy="1182.7" r="8.45"/><circle cx="639.8" cy="1183.5" r="8.45"/><circle cx="631.1" cy="1191.2" r="8.45"/><circle cx="630.6" cy="1180.3" r="8.45"/><circle cx="632.9" cy="1187.6" r="8.45"/><circle cx="639.8" cy="1192.7" r="8.45"/><circle cx="627.0" cy="1195.1" r="8.45"/><circle cx="643.8" cy="1180.3" r="8.45"/><circle cx="645.3" cy="1182.4" r="8.45"/><circle cx="658.6" cy="1191.6" r="8.45"/><circle cx="643.8" cy="1191.7" r="8.45"/><circle cx="645.0" cy="1198.5" r="8.45"/><circle cx="641.8" cy="1195.6" r="8.45"/><circle cx="655.0" cy="1190.6" r="8.45"/><circle cx="648.1" cy="1199.8" r="8.45"/><circle cx="648.6" cy="1180.4" r="8.45"/><circle cx="641.1" cy="1180.8" r="8.45"/><circle cx="642.8" cy="1195.9" r="8.45"/><circle cx="649.5" cy="1182.1" r="8.45"/><circle cx="652.3" cy="1186.2" r="8.45"/><circle cx="650.0" cy="1186.3" r="8.45"/><circle cx="653.5" cy="1195.7" r="8.45"/><circle cx="646.5" cy="1198.8" r="8.45"/><circle cx="672.4" cy="1196.0" r="8.45"/><circle cx="661.9" cy="1194.6" r="8.45"/><circle cx="661.8" cy="1195.7" r="8.45"/><circle cx="676.7" cy="1194.7" r="8.45"/><circle cx="670.2" cy="1188.1" r="8.45"/><circle cx="660.2" cy="1194.1" r="8.45"/><circle cx="676.9" cy="1198.6" r="8.45"/><circle cx="664.0" cy="1181.5" r="8.45"/><circle cx="676.5" cy="1197.6" r="8.45"/><circle cx="679.1" cy="1193.9" r="8.45"/><circle cx="667.2" cy="1199.9" r="8.45"/><circle cx="669.0" cy="1186.5" r="8.45"/><circle cx="672.2" cy="1195.3" r="8.45"/><circle cx="678.4" cy="1183.9" r="8.45"/><circle cx="676.6" cy="1191.9" r="8.45"/><circle cx="672.4" cy="1183.6" r="8.45"/><circle cx="661.7" cy="1182.8" r="8.45"/><circle cx="686.8" cy="1187.5" r="8.45"/><circle cx="688.4" cy="1198.6" r="8.45"/><circle cx="690.3" cy="1184.3" r="8.45"/><circle cx="682.6" cy="1183.4" r="8.45"/><circle cx="697.4" cy="1181.6" r="8.45"/><circle cx="699.5" cy="1185.4" r="8.45"/><circle cx="696.1" cy="1190.1" r="8.45"/><circle cx="693.9" cy="1198.8" r="8.45"/><circle cx="691.2" cy="1195.2" r="8.45"/><circle cx="681.3" cy="1180.5" r="8.45"/><circle cx="697.1" cy="1196.8" r="8.45"/><circle cx="699.4" cy="1197.4" r="8.45"/><circle cx="684.3" cy="1196.1" r="8.45"/><circle cx="692.9" cy="1191.8" r="8.45"/><circle cx="685.4" cy="1185.1" r="8.45"/><circle cx="680.7" cy="1193.5" r="8.45"/><circle cx="717.4" cy="1196.8" r="8.45"/><circle cx="701.5" cy="1194.7" r="8.45"/><circle cx="712.5" cy="1193.3" r="8.45"/><circle cx="717.4" cy="1196.0" r="8.45"/><circle cx="711.0" cy="1194.0" r="8.45"/><circle cx="718.3" cy="1190.6" r="8.45"/><circle cx="711.9" cy="1181.0" r="8.45"/><circle cx="702.5" cy="1189.6" r="8.45"/><circle cx="701.8" cy="1182.0" r="8.45"/><circle cx="701.4" cy="1188.5" r="8.45"/><circle cx="709.2" cy="1180.0" r="8.45"/><circle cx="716.2" cy="1194.1" r="8.45"/><circle cx="708.2" cy="1195.4" r="8.45"/><circle cx="717.7" cy="1192.6" r="8.45"/><circle cx="717.1" cy="1190.2" r="8.45"/><circle cx="737.0" cy="1185.7" r="8.45"/><circle cx="728.8" cy="1198.1" r="8.45"/><circle cx="725.7" cy="1185.9" r="8.45"/><circle cx="723.6" cy="1181.5" r="8.45"/><circle cx="735.1" cy="1188.2" r="8.45"/><circle cx="735.8" cy="1191.1" r="8.45"/><circle cx="737.7" cy="1188.5" r="8.45"/><circle cx="733.1" cy="1197.6" r="8.45"/><circle cx="732.2" cy="1187.0" r="8.45"/><circle cx="759.1" cy="1189.9" r="8.45"/><circle cx="755.1" cy="1184.8" r="8.45"/><circle cx="758.2" cy="1195.8" r="8.45"/><circle cx="756.7" cy="1190.0" r="8.45"/><circle cx="758.0" cy="1190.1" r="8.45"/><circle cx="386.1" cy="1216.2" r="8.45"/><circle cx="383.7" cy="1209.9" r="8.45"/><circle cx="399.8" cy="1202.2" r="8.45"/><circle cx="382.4" cy="1219.3" r="8.45"/><circle cx="381.3" cy="1204.1" r="8.45"/><circle cx="394.3" cy="1205.2" r="8.45"/><circle cx="396.0" cy="1214.3" r="8.45"/><circle cx="395.9" cy="1206.2" r="8.45"/><circle cx="407.4" cy="1207.6" r="8.45"/><circle cx="402.5" cy="1210.7" r="8.45"/><circle cx="405.8" cy="1203.2" r="8.45"/><circle cx="413.9" cy="1215.8" r="8.45"/><circle cx="416.6" cy="1204.7" r="8.45"/><circle cx="407.1" cy="1212.3" r="8.45"/><circle cx="408.1" cy="1216.7" r="8.45"/><circle cx="400.6" cy="1207.7" r="8.45"/><circle cx="412.8" cy="1212.0" r="8.45"/><circle cx="408.6" cy="1210.6" r="8.45"/><circle cx="413.0" cy="1208.4" r="8.45"/><circle cx="407.3" cy="1217.8" r="8.45"/><circle cx="409.3" cy="1216.5" r="8.45"/><circle cx="400.4" cy="1220.0" r="8.45"/><circle cx="413.4" cy="1207.1" r="8.45"/><circle cx="408.7" cy="1202.5" r="8.45"/><circle cx="404.9" cy="1201.8" r="8.45"/><circle cx="404.6" cy="1215.2" r="8.45"/><circle cx="433.8" cy="1211.8" r="8.45"/><circle cx="427.3" cy="1215.1" r="8.45"/><circle cx="438.1" cy="1203.8" r="8.45"/><circle cx="433.0" cy="1208.2" r="8.45"/><circle cx="437.3" cy="1204.9" r="8.45"/><circle cx="425.4" cy="1203.9" r="8.45"/><circle cx="434.4" cy="1218.4" r="8.45"/><circle cx="429.6" cy="1211.5" r="8.45"/><circle cx="432.0" cy="1217.7" r="8.45"/><circle cx="426.4" cy="1213.4" r="8.45"/><circle cx="439.8" cy="1214.7" r="8.45"/><circle cx="436.2" cy="1203.5" r="8.45"/><circle cx="422.0" cy="1216.7" r="8.45"/><circle cx="422.2" cy="1201.5" r="8.45"/><circle cx="435.6" cy="1214.0" r="8.45"/><circle cx="434.9" cy="1211.5" r="8.45"/><circle cx="433.8" cy="1213.5" r="8.45"/><circle cx="420.5" cy="1218.0" r="8.45"/><circle cx="440.3" cy="1207.1" r="8.45"/><circle cx="448.4" cy="1208.6" r="8.45"/><circle cx="458.6" cy="1200.9" r="8.45"/><circle cx="444.2" cy="1218.0" r="8.45"/><circle cx="445.0" cy="1202.5" r="8.45"/><circle cx="450.3" cy="1219.1" r="8.45"/><circle cx="448.0" cy="1215.9" r="8.45"/><circle cx="452.6" cy="1204.0" r="8.45"/><circle cx="456.3" cy="1202.0" r="8.45"/><circle cx="453.6" cy="1207.2" r="8.45"/><circle cx="470.9" cy="1215.4" r="8.45"/><circle cx="467.5" cy="1205.9" r="8.45"/><circle cx="477.1" cy="1201.7" r="8.45"/><circle cx="475.9" cy="1202.5" r="8.45"/><circle cx="478.1" cy="1215.2" r="8.45"/><circle cx="466.9" cy="1202.6" r="8.45"/><circle cx="472.6" cy="1215.9" r="8.45"/><circle cx="464.8" cy="1202.1" r="8.45"/><circle cx="472.3" cy="1213.0" r="8.45"/><circle cx="462.5" cy="1203.5" r="8.45"/><circle cx="481.0" cy="1204.5" r="8.45"/><circle cx="497.9" cy="1217.1" r="8.45"/><circle cx="493.8" cy="1200.5" r="8.45"/><circle cx="480.7" cy="1208.1" r="8.45"/><circle cx="483.2" cy="1208.6" r="8.45"/><circle cx="482.5" cy="1214.3" r="8.45"/><circle cx="485.9" cy="1208.7" r="8.45"/><circle cx="495.0" cy="1203.4" r="8.45"/><circle cx="499.3" cy="1208.3" r="8.45"/><circle cx="482.7" cy="1200.1" r="8.45"/><circle cx="492.9" cy="1217.3" r="8.45"/><circle cx="495.8" cy="1206.6" r="8.45"/><circle cx="489.4" cy="1208.3" r="8.45"/><circle cx="481.7" cy="1204.9" r="8.45"/><circle cx="507.2" cy="1205.5" r="8.45"/><circle cx="508.3" cy="1205.8" r="8.45"/><circle cx="507.5" cy="1213.8" r="8.45"/><circle cx="506.9" cy="1209.9" r="8.45"/><circle cx="515.4" cy="1206.3" r="8.45"/><circle cx="501.8" cy="1210.1" r="8.45"/><circle cx="504.5" cy="1214.3" r="8.45"/><circle cx="506.3" cy="1203.8" r="8.45"/><circle cx="502.0" cy="1200.5" r="8.45"/><circle cx="507.4" cy="1216.5" r="8.45"/><circle cx="507.7" cy="1202.2" r="8.45"/><circle cx="504.7" cy="1215.0" r="8.45"/><circle cx="501.9" cy="1208.3" r="8.45"/><circle cx="513.0" cy="1209.7" r="8.45"/><circle cx="500.2" cy="1200.7" r="8.45"/><circle cx="516.4" cy="1219.1" r="8.45"/><circle cx="518.0" cy="1210.6" r="8.45"/><circle cx="529.6" cy="1204.2" r="8.45"/><circle cx="538.0" cy="1200.1" r="8.45"/><circle cx="524.7" cy="1207.6" r="8.45"/><circle cx="539.1" cy="1208.8" r="8.45"/><circle cx="522.4" cy="1204.3" r="8.45"/><circle cx="531.0" cy="1208.8" r="8.45"/><circle cx="536.5" cy="1206.5" r="8.45"/><circle cx="532.9" cy="1204.3" r="8.45"/><circle cx="539.0" cy="1205.0" r="8.45"/><circle cx="534.3" cy="1215.1" r="8.45"/><circle cx="537.1" cy="1212.6" r="8.45"/><circle cx="530.4" cy="1208.0" r="8.45"/><circle cx="525.1" cy="1215.6" r="8.45"/><circle cx="523.5" cy="1207.8" r="8.45"/><circle cx="520.4" cy="1215.3" r="8.45"/><circle cx="529.7" cy="1201.0" r="8.45"/><circle cx="521.3" cy="1202.8" r="8.45"/><circle cx="525.1" cy="1200.2" r="8.45"/><circle cx="520.2" cy="1200.3" r="8.45"/><circle cx="550.1" cy="1210.5" r="8.45"/><circle cx="544.1" cy="1203.7" r="8.45"/><circle cx="546.1" cy="1204.6" r="8.45"/><circle cx="557.7" cy="1216.0" r="8.45"/><circle cx="558.7" cy="1202.2" r="8.45"/><circle cx="554.6" cy="1219.6" r="8.45"/><circle cx="541.9" cy="1215.6" r="8.45"/><circle cx="547.1" cy="1200.2" r="8.45"/><circle cx="557.1" cy="1212.9" r="8.45"/><circle cx="557.4" cy="1206.1" r="8.45"/><circle cx="552.9" cy="1202.8" r="8.45"/><circle cx="554.1" cy="1218.4" r="8.45"/><circle cx="546.5" cy="1214.6" r="8.45"/><circle cx="549.5" cy="1212.5" r="8.45"/><circle cx="547.6" cy="1213.3" r="8.45"/><circle cx="556.5" cy="1212.2" r="8.45"/><circle cx="545.0" cy="1204.5" r="8.45"/><circle cx="554.8" cy="1213.7" r="8.45"/><circle cx="555.6" cy="1203.7" r="8.45"/><circle cx="578.2" cy="1200.1" r="8.45"/><circle cx="563.9" cy="1219.8" r="8.45"/><circle cx="568.0" cy="1205.2" r="8.45"/><circle cx="576.7" cy="1202.4" r="8.45"/><circle cx="565.1" cy="1219.3" r="8.45"/><circle cx="563.4" cy="1217.0" r="8.45"/><circle cx="570.4" cy="1203.7" r="8.45"/><circle cx="567.1" cy="1204.9" r="8.45"/><circle cx="566.7" cy="1217.2" r="8.45"/><circle cx="571.5" cy="1202.7" r="8.45"/><circle cx="573.6" cy="1204.7" r="8.45"/><circle cx="561.7" cy="1211.9" r="8.45"/><circle cx="579.9" cy="1210.5" r="8.45"/><circle cx="569.6" cy="1216.2" r="8.45"/><circle cx="562.1" cy="1202.6" r="8.45"/><circle cx="562.7" cy="1215.0" r="8.45"/><circle cx="560.1" cy="1211.8" r="8.45"/><circle cx="589.9" cy="1202.5" r="8.45"/><circle cx="593.6" cy="1214.7" r="8.45"/><circle cx="590.0" cy="1214.9" r="8.45"/><circle cx="583.1" cy="1202.2" r="8.45"/><circle cx="581.8" cy="1206.1" r="8.45"/><circle cx="581.4" cy="1212.2" r="8.45"/><circle cx="588.5" cy="1219.1" r="8.45"/><circle cx="593.7" cy="1213.3" r="8.45"/><circle cx="596.5" cy="1208.5" r="8.45"/><circle cx="598.1" cy="1206.0" r="8.45"/><circle cx="584.4" cy="1210.6" r="8.45"/><circle cx="596.8" cy="1217.0" r="8.45"/><circle cx="581.0" cy="1216.3" r="8.45"/><circle cx="581.5" cy="1209.6" r="8.45"/><circle cx="595.6" cy="1205.4" r="8.45"/><circle cx="580.7" cy="1218.7" r="8.45"/><circle cx="587.3" cy="1206.4" r="8.45"/><circle cx="580.3" cy="1200.5" r="8.45"/><circle cx="597.8" cy="1207.5" r="8.45"/><circle cx="604.8" cy="1202.3" r="8.45"/><circle cx="602.6" cy="1213.4" r="8.45"/><circle cx="602.0" cy="1219.8" r="8.45"/><circle cx="607.8" cy="1210.4" r="8.45"/><circle cx="617.5" cy="1203.5" r="8.45"/><circle cx="617.0" cy="1210.3" r="8.45"/><circle cx="610.3" cy="1211.9" r="8.45"/><circle cx="609.5" cy="1202.7" r="8.45"/><circle cx="619.0" cy="1213.8" r="8.45"/><circle cx="602.9" cy="1200.2" r="8.45"/><circle cx="609.2" cy="1204.3" r="8.45"/><circle cx="618.8" cy="1203.5" r="8.45"/><circle cx="610.7" cy="1209.7" r="8.45"/><circle cx="615.6" cy="1203.3" r="8.45"/><circle cx="605.7" cy="1208.9" r="8.45"/><circle cx="612.1" cy="1208.9" r="8.45"/><circle cx="605.8" cy="1216.2" r="8.45"/><circle cx="616.0" cy="1215.9" r="8.45"/><circle cx="602.4" cy="1210.8" r="8.45"/><circle cx="618.6" cy="1211.4" r="8.45"/><circle cx="634.6" cy="1203.4" r="8.45"/><circle cx="638.8" cy="1216.5" r="8.45"/><circle cx="631.6" cy="1216.4" r="8.45"/><circle cx="620.1" cy="1217.3" r="8.45"/><circle cx="621.8" cy="1208.4" r="8.45"/><circle cx="624.4" cy="1217.3" r="8.45"/><circle cx="621.3" cy="1207.5" r="8.45"/><circle cx="620.5" cy="1216.6" r="8.45"/><circle cx="631.1" cy="1217.0" r="8.45"/><circle cx="620.3" cy="1208.6" r="8.45"/><circle cx="620.9" cy="1210.8" r="8.45"/><circle cx="625.8" cy="1212.0" r="8.45"/><circle cx="623.7" cy="1208.4" r="8.45"/><circle cx="638.2" cy="1219.0" r="8.45"/><circle cx="636.2" cy="1207.0" r="8.45"/><circle cx="629.8" cy="1215.9" r="8.45"/><circle cx="632.2" cy="1216.3" r="8.45"/><circle cx="623.7" cy="1216.3" r="8.45"/><circle cx="623.8" cy="1214.3" r="8.45"/><circle cx="657.2" cy="1204.7" r="8.45"/><circle cx="645.2" cy="1210.9" r="8.45"/><circle cx="645.2" cy="1214.8" r="8.45"/><circle cx="650.4" cy="1204.0" r="8.45"/><circle cx="643.0" cy="1205.6" r="8.45"/><circle cx="643.3" cy="1200.3" r="8.45"/><circle cx="657.3" cy="1215.4" r="8.45"/><circle cx="653.3" cy="1200.3" r="8.45"/><circle cx="646.2" cy="1210.3" r="8.45"/><circle cx="654.5" cy="1210.2" r="8.45"/><circle cx="651.7" cy="1203.4" r="8.45"/><circle cx="652.0" cy="1214.0" r="8.45"/><circle cx="647.3" cy="1215.9" r="8.45"/><circle cx="642.9" cy="1214.0" r="8.45"/><circle cx="655.2" cy="1212.6" r="8.45"/><circle cx="644.0" cy="1214.7" r="8.45"/><circle cx="642.6" cy="1209.6" r="8.45"/><circle cx="664.4" cy="1209.2" r="8.45"/><circle cx="660.6" cy="1204.3" r="8.45"/><circle cx="676.9" cy="1214.0" r="8.45"/><circle cx="663.9" cy="1205.7" r="8.45"/><circle cx="671.6" cy="1212.4" r="8.45"/><circle cx="670.2" cy="1213.6" r="8.45"/><circle cx="668.7" cy="1219.3" r="8.45"/><circle cx="672.3" cy="1201.6" r="8.45"/><circle cx="662.4" cy="1200.7" r="8.45"/><circle cx="666.0" cy="1218.4" r="8.45"/><circle cx="665.0" cy="1215.0" r="8.45"/><circle cx="660.6" cy="1219.2" r="8.45"/><circle cx="669.3" cy="1202.3" r="8.45"/><circle cx="667.1" cy="1208.6" r="8.45"/><circle cx="674.2" cy="1211.0" r="8.45"/><circle cx="662.2" cy="1206.9" r="8.45"/><circle cx="664.4" cy="1213.7" r="8.45"/><circle cx="671.8" cy="1219.6" r="8.45"/><circle cx="675.1" cy="1203.2" r="8.45"/><circle cx="687.5" cy="1215.7" r="8.45"/><circle cx="686.0" cy="1211.9" r="8.45"/><circle cx="697.3" cy="1202.0" r="8.45"/><circle cx="692.5" cy="1215.6" r="8.45"/><circle cx="686.7" cy="1210.2" r="8.45"/><circle cx="694.6" cy="1214.7" r="8.45"/><circle cx="694.3" cy="1214.0" r="8.45"/><circle cx="695.3" cy="1207.2" r="8.45"/><circle cx="688.0" cy="1203.2" r="8.45"/><circle cx="680.5" cy="1200.4" r="8.45"/><circle cx="696.2" cy="1206.3" r="8.45"/><circle cx="685.9" cy="1205.9" r="8.45"/><circle cx="690.0" cy="1216.6" r="8.45"/><circle cx="684.9" cy="1206.9" r="8.45"/><circle cx="690.4" cy="1202.4" r="8.45"/><circle cx="682.2" cy="1203.1" r="8.45"/><circle cx="695.6" cy="1218.1" r="8.45"/><circle cx="711.5" cy="1205.9" r="8.45"/><circle cx="704.7" cy="1201.5" r="8.45"/><circle cx="703.6" cy="1210.8" r="8.45"/><circle cx="705.1" cy="1204.8" r="8.45"/><circle cx="717.8" cy="1214.1" r="8.45"/><circle cx="700.3" cy="1210.5" r="8.45"/><circle cx="717.4" cy="1214.6" r="8.45"/><circle cx="706.5" cy="1204.1" r="8.45"/><circle cx="706.5" cy="1212.2" r="8.45"/><circle cx="710.4" cy="1206.3" r="8.45"/><circle cx="701.4" cy="1219.3" r="8.45"/><circle cx="717.8" cy="1219.9" r="8.45"/><circle cx="722.3" cy="1215.1" r="8.45"/><circle cx="722.4" cy="1218.2" r="8.45"/><circle cx="724.1" cy="1204.8" r="8.45"/><circle cx="735.3" cy="1203.2" r="8.45"/><circle cx="739.0" cy="1202.8" r="8.45"/><circle cx="728.1" cy="1200.6" r="8.45"/><circle cx="736.3" cy="1215.4" r="8.45"/><circle cx="723.1" cy="1206.4" r="8.45"/><circle cx="732.4" cy="1215.2" r="8.45"/><circle cx="738.2" cy="1201.0" r="8.45"/><circle cx="752.1" cy="1208.1" r="8.45"/><circle cx="757.7" cy="1205.1" r="8.45"/><circle cx="749.4" cy="1219.8" r="8.45"/><circle cx="747.0" cy="1204.1" r="8.45"/><circle cx="745.9" cy="1204.4" r="8.45"/><circle cx="751.2" cy="1207.8" r="8.45"/><circle cx="752.5" cy="1217.5" r="8.45"/><circle cx="743.2" cy="1209.5" r="8.45"/><circle cx="749.0" cy="1205.4" r="8.45"/><circle cx="777.8" cy="1213.9" r="8.45"/><circle cx="772.0" cy="1213.5" r="8.45"/><circle cx="776.7" cy="1211.1" r="8.45"/><circle cx="773.6" cy="1206.8" r="8.45"/><circle cx="794.0" cy="1207.0" r="8.45"/><circle cx="381.4" cy="1238.8" r="8.45"/><circle cx="383.2" cy="1234.8" r="8.45"/><circle cx="392.8" cy="1229.0" r="8.45"/><circle cx="386.0" cy="1236.5" r="8.45"/><circle cx="403.7" cy="1221.1" r="8.45"/><circle cx="410.8" cy="1224.8" r="8.45"/><circle cx="401.5" cy="1239.8" r="8.45"/><circle cx="419.9" cy="1234.0" r="8.45"/><circle cx="415.4" cy="1232.4" r="8.45"/><circle cx="406.4" cy="1238.5" r="8.45"/><circle cx="400.0" cy="1222.7" r="8.45"/><circle cx="419.7" cy="1223.1" r="8.45"/><circle cx="404.1" cy="1220.7" r="8.45"/><circle cx="414.7" cy="1227.5" r="8.45"/><circle cx="421.7" cy="1231.7" r="8.45"/><circle cx="420.4" cy="1238.7" r="8.45"/><circle cx="420.2" cy="1223.8" r="8.45"/><circle cx="437.1" cy="1239.3" r="8.45"/><circle cx="435.2" cy="1220.8" r="8.45"/><circle cx="422.6" cy="1237.8" r="8.45"/><circle cx="428.9" cy="1232.0" r="8.45"/><circle cx="436.8" cy="1237.2" r="8.45"/><circle cx="423.2" cy="1234.2" r="8.45"/><circle cx="425.9" cy="1224.3" r="8.45"/><circle cx="455.6" cy="1224.9" r="8.45"/><circle cx="440.0" cy="1234.0" r="8.45"/><circle cx="452.5" cy="1223.9" r="8.45"/><circle cx="448.9" cy="1234.6" r="8.45"/><circle cx="453.7" cy="1238.9" r="8.45"/><circle cx="441.8" cy="1238.9" r="8.45"/><circle cx="474.2" cy="1227.7" r="8.45"/><circle cx="468.2" cy="1238.8" r="8.45"/><circle cx="479.8" cy="1227.2" r="8.45"/><circle cx="467.3" cy="1225.0" r="8.45"/><circle cx="464.1" cy="1227.1" r="8.45"/><circle cx="472.9" cy="1232.5" r="8.45"/><circle cx="475.6" cy="1223.3" r="8.45"/><circle cx="466.6" cy="1221.4" r="8.45"/><circle cx="472.7" cy="1224.6" r="8.45"/><circle cx="490.4" cy="1233.2" r="8.45"/><circle cx="495.4" cy="1224.6" r="8.45"/><circle cx="496.8" cy="1225.1" r="8.45"/><circle cx="488.0" cy="1229.9" r="8.45"/><circle cx="497.8" cy="1226.8" r="8.45"/><circle cx="485.3" cy="1237.1" r="8.45"/><circle cx="499.2" cy="1230.2" r="8.45"/><circle cx="496.6" cy="1223.6" r="8.45"/><circle cx="497.7" cy="1227.5" r="8.45"/><circle cx="492.9" cy="1233.3" r="8.45"/><circle cx="502.8" cy="1233.0" r="8.45"/><circle cx="506.9" cy="1222.4" r="8.45"/><circle cx="500.1" cy="1234.1" r="8.45"/><circle cx="517.4" cy="1224.1" r="8.45"/><circle cx="503.8" cy="1226.4" r="8.45"/><circle cx="514.8" cy="1228.9" r="8.45"/><circle cx="504.2" cy="1220.9" r="8.45"/><circle cx="515.7" cy="1227.2" r="8.45"/><circle cx="514.1" cy="1231.9" r="8.45"/><circle cx="504.1" cy="1231.7" r="8.45"/><circle cx="517.0" cy="1237.5" r="8.45"/><circle cx="506.9" cy="1236.2" r="8.45"/><circle cx="532.6" cy="1236.4" r="8.45"/><circle cx="538.9" cy="1232.7" r="8.45"/><circle cx="521.8" cy="1239.5" r="8.45"/><circle cx="539.6" cy="1224.1" r="8.45"/><circle cx="528.0" cy="1225.8" r="8.45"/><circle cx="537.8" cy="1220.5" r="8.45"/><circle cx="525.7" cy="1224.5" r="8.45"/><circle cx="523.2" cy="1221.1" r="8.45"/><circle cx="525.9" cy="1233.8" r="8.45"/><circle cx="526.7" cy="1231.2" r="8.45"/><circle cx="524.3" cy="1238.1" r="8.45"/><circle cx="531.4" cy="1224.1" r="8.45"/><circle cx="534.9" cy="1236.6" r="8.45"/><circle cx="522.4" cy="1228.0" r="8.45"/><circle cx="528.1" cy="1236.4" r="8.45"/><circle cx="523.1" cy="1220.1" r="8.45"/><circle cx="535.5" cy="1236.5" r="8.45"/><circle cx="555.6" cy="1226.0" r="8.45"/><circle cx="541.2" cy="1235.3" r="8.45"/><circle cx="548.6" cy="1235.0" r="8.45"/><circle cx="542.3" cy="1222.7" r="8.45"/><circle cx="550.9" cy="1226.9" r="8.45"/><circle cx="548.9" cy="1234.5" r="8.45"/><circle cx="544.5" cy="1220.1" r="8.45"/><circle cx="556.7" cy="1233.8" r="8.45"/><circle cx="555.7" cy="1225.3" r="8.45"/><circle cx="553.3" cy="1225.4" r="8.45"/><circle cx="550.9" cy="1225.7" r="8.45"/><circle cx="546.6" cy="1221.8" r="8.45"/><circle cx="559.8" cy="1225.0" r="8.45"/><circle cx="553.5" cy="1227.6" r="8.45"/><circle cx="559.7" cy="1227.3" r="8.45"/><circle cx="556.4" cy="1231.0" r="8.45"/><circle cx="557.9" cy="1233.5" r="8.45"/><circle cx="542.7" cy="1232.5" r="8.45"/><circle cx="541.7" cy="1227.6" r="8.45"/><circle cx="561.3" cy="1228.4" r="8.45"/><circle cx="579.0" cy="1238.5" r="8.45"/><circle cx="572.9" cy="1236.3" r="8.45"/><circle cx="562.9" cy="1233.8" r="8.45"/><circle cx="568.4" cy="1236.1" r="8.45"/><circle cx="567.1" cy="1236.7" r="8.45"/><circle cx="571.6" cy="1237.6" r="8.45"/><circle cx="579.9" cy="1229.3" r="8.45"/><circle cx="568.1" cy="1220.3" r="8.45"/><circle cx="562.4" cy="1224.2" r="8.45"/><circle cx="567.0" cy="1237.1" r="8.45"/><circle cx="567.9" cy="1221.6" r="8.45"/><circle cx="564.4" cy="1231.3" r="8.45"/><circle cx="561.4" cy="1233.6" r="8.45"/><circle cx="561.6" cy="1234.4" r="8.45"/><circle cx="573.5" cy="1221.3" r="8.45"/><circle cx="576.5" cy="1220.5" r="8.45"/><circle cx="596.7" cy="1233.4" r="8.45"/><circle cx="580.5" cy="1232.0" r="8.45"/><circle cx="599.8" cy="1237.7" r="8.45"/><circle cx="600.0" cy="1228.6" r="8.45"/><circle cx="588.2" cy="1237.8" r="8.45"/><circle cx="590.0" cy="1220.7" r="8.45"/><circle cx="586.2" cy="1224.7" r="8.45"/><circle cx="589.5" cy="1232.9" r="8.45"/><circle cx="583.5" cy="1220.7" r="8.45"/><circle cx="588.8" cy="1222.9" r="8.45"/><circle cx="582.7" cy="1227.4" r="8.45"/><circle cx="596.5" cy="1236.6" r="8.45"/><circle cx="588.4" cy="1220.7" r="8.45"/><circle cx="581.3" cy="1222.7" r="8.45"/><circle cx="596.4" cy="1231.0" r="8.45"/><circle cx="597.3" cy="1237.7" r="8.45"/><circle cx="597.9" cy="1232.7" r="8.45"/><circle cx="601.1" cy="1229.6" r="8.45"/><circle cx="615.9" cy="1234.3" r="8.45"/><circle cx="612.2" cy="1234.6" r="8.45"/><circle cx="611.5" cy="1220.8" r="8.45"/><circle cx="608.1" cy="1231.7" r="8.45"/><circle cx="605.8" cy="1236.6" r="8.45"/><circle cx="600.9" cy="1226.9" r="8.45"/><circle cx="606.9" cy="1228.1" r="8.45"/><circle cx="601.7" cy="1235.3" r="8.45"/><circle cx="612.2" cy="1229.4" r="8.45"/><circle cx="615.7" cy="1225.5" r="8.45"/><circle cx="614.3" cy="1231.2" r="8.45"/><circle cx="609.5" cy="1233.8" r="8.45"/><circle cx="615.8" cy="1235.0" r="8.45"/><circle cx="616.8" cy="1225.9" r="8.45"/><circle cx="605.1" cy="1234.3" r="8.45"/><circle cx="602.7" cy="1234.6" r="8.45"/><circle cx="625.1" cy="1220.9" r="8.45"/><circle cx="630.9" cy="1228.5" r="8.45"/><circle cx="638.4" cy="1223.8" r="8.45"/><circle cx="622.8" cy="1231.9" r="8.45"/><circle cx="621.1" cy="1238.1" r="8.45"/><circle cx="621.6" cy="1230.9" r="8.45"/><circle cx="627.0" cy="1237.3" r="8.45"/><circle cx="638.4" cy="1229.6" r="8.45"/><circle cx="633.9" cy="1233.6" r="8.45"/><circle cx="631.9" cy="1236.9" r="8.45"/><circle cx="632.9" cy="1235.7" r="8.45"/><circle cx="623.0" cy="1227.3" r="8.45"/><circle cx="636.3" cy="1220.0" r="8.45"/><circle cx="626.7" cy="1234.0" r="8.45"/><circle cx="639.2" cy="1231.3" r="8.45"/><circle cx="620.3" cy="1232.4" r="8.45"/><circle cx="639.8" cy="1233.2" r="8.45"/><circle cx="659.6" cy="1233.6" r="8.45"/><circle cx="658.8" cy="1239.9" r="8.45"/><circle cx="644.3" cy="1221.2" r="8.45"/><circle cx="640.7" cy="1237.9" r="8.45"/><circle cx="642.4" cy="1234.5" r="8.45"/><circle cx="657.7" cy="1232.1" r="8.45"/><circle cx="644.0" cy="1231.1" r="8.45"/><circle cx="654.6" cy="1234.2" r="8.45"/><circle cx="642.8" cy="1234.7" r="8.45"/><circle cx="659.9" cy="1230.8" r="8.45"/><circle cx="656.6" cy="1238.0" r="8.45"/><circle cx="644.2" cy="1233.4" r="8.45"/><circle cx="653.0" cy="1222.3" r="8.45"/><circle cx="648.3" cy="1228.3" r="8.45"/><circle cx="641.8" cy="1221.7" r="8.45"/><circle cx="677.1" cy="1226.3" r="8.45"/><circle cx="673.1" cy="1226.3" r="8.45"/><circle cx="662.9" cy="1222.7" r="8.45"/><circle cx="677.3" cy="1236.9" r="8.45"/><circle cx="663.9" cy="1226.8" r="8.45"/><circle cx="674.3" cy="1230.7" r="8.45"/><circle cx="662.7" cy="1227.0" r="8.45"/><circle cx="666.3" cy="1233.8" r="8.45"/><circle cx="679.4" cy="1227.7" r="8.45"/><circle cx="668.5" cy="1237.3" r="8.45"/><circle cx="668.1" cy="1226.3" r="8.45"/><circle cx="663.8" cy="1233.6" r="8.45"/><circle cx="672.2" cy="1234.4" r="8.45"/><circle cx="667.6" cy="1234.2" r="8.45"/><circle cx="672.5" cy="1229.3" r="8.45"/><circle cx="675.8" cy="1235.8" r="8.45"/><circle cx="660.6" cy="1225.8" r="8.45"/><circle cx="687.2" cy="1235.0" r="8.45"/><circle cx="687.3" cy="1238.2" r="8.45"/><circle cx="695.4" cy="1226.3" r="8.45"/><circle cx="691.6" cy="1229.0" r="8.45"/><circle cx="694.3" cy="1228.2" r="8.45"/><circle cx="687.8" cy="1233.5" r="8.45"/><circle cx="688.6" cy="1231.6" r="8.45"/><circle cx="690.4" cy="1228.2" r="8.45"/><circle cx="681.5" cy="1227.9" r="8.45"/><circle cx="695.7" cy="1237.2" r="8.45"/><circle cx="694.3" cy="1223.2" r="8.45"/><circle cx="685.2" cy="1237.5" r="8.45"/><circle cx="710.3" cy="1238.7" r="8.45"/><circle cx="709.1" cy="1229.1" r="8.45"/><circle cx="705.7" cy="1220.6" r="8.45"/><circle cx="711.3" cy="1235.6" r="8.45"/><circle cx="715.2" cy="1222.2" r="8.45"/><circle cx="707.6" cy="1224.8" r="8.45"/><circle cx="704.9" cy="1227.3" r="8.45"/><circle cx="710.2" cy="1235.0" r="8.45"/><circle cx="714.3" cy="1235.0" r="8.45"/><circle cx="708.7" cy="1234.4" r="8.45"/><circle cx="735.8" cy="1227.3" r="8.45"/><circle cx="737.1" cy="1237.3" r="8.45"/><circle cx="727.1" cy="1237.7" r="8.45"/><circle cx="727.2" cy="1222.7" r="8.45"/><circle cx="739.4" cy="1222.1" r="8.45"/><circle cx="753.4" cy="1235.9" r="8.45"/><circle cx="755.1" cy="1224.1" r="8.45"/><circle cx="756.5" cy="1222.6" r="8.45"/><circle cx="758.4" cy="1237.3" r="8.45"/><circle cx="746.5" cy="1220.9" r="8.45"/><circle cx="757.5" cy="1234.9" r="8.45"/><circle cx="756.7" cy="1224.4" r="8.45"/><circle cx="750.7" cy="1223.6" r="8.45"/><circle cx="750.9" cy="1239.2" r="8.45"/><circle cx="751.1" cy="1236.0" r="8.45"/><circle cx="767.7" cy="1225.3" r="8.45"/><circle cx="774.9" cy="1222.7" r="8.45"/><circle cx="766.7" cy="1225.3" r="8.45"/><circle cx="782.8" cy="1236.3" r="8.45"/><circle cx="792.1" cy="1220.4" r="8.45"/><circle cx="794.1" cy="1227.9" r="8.45"/><circle cx="796.0" cy="1231.1" r="8.45"/><circle cx="792.5" cy="1239.3" r="8.45"/><circle cx="816.8" cy="1224.0" r="8.45"/><circle cx="816.8" cy="1231.2" r="8.45"/><circle cx="386.3" cy="1255.2" r="8.45"/><circle cx="406.1" cy="1258.3" r="8.45"/><circle cx="404.7" cy="1256.9" r="8.45"/><circle cx="435.0" cy="1251.6" r="8.45"/><circle cx="422.6" cy="1250.1" r="8.45"/><circle cx="443.1" cy="1247.1" r="8.45"/><circle cx="458.6" cy="1242.6" r="8.45"/><circle cx="454.0" cy="1253.7" r="8.45"/><circle cx="459.3" cy="1244.1" r="8.45"/><circle cx="440.9" cy="1245.9" r="8.45"/><circle cx="475.9" cy="1242.5" r="8.45"/><circle cx="466.4" cy="1259.4" r="8.45"/><circle cx="471.7" cy="1247.0" r="8.45"/><circle cx="475.2" cy="1251.0" r="8.45"/><circle cx="470.1" cy="1253.8" r="8.45"/><circle cx="474.8" cy="1252.8" r="8.45"/><circle cx="483.8" cy="1257.0" r="8.45"/><circle cx="497.4" cy="1250.4" r="8.45"/><circle cx="497.5" cy="1242.1" r="8.45"/><circle cx="482.3" cy="1255.3" r="8.45"/><circle cx="495.7" cy="1248.1" r="8.45"/><circle cx="481.4" cy="1257.0" r="8.45"/><circle cx="483.8" cy="1245.7" r="8.45"/><circle cx="489.9" cy="1245.6" r="8.45"/><circle cx="481.3" cy="1259.6" r="8.45"/><circle cx="504.4" cy="1258.7" r="8.45"/><circle cx="517.9" cy="1258.4" r="8.45"/><circle cx="518.4" cy="1255.8" r="8.45"/><circle cx="510.4" cy="1256.3" r="8.45"/><circle cx="506.3" cy="1241.1" r="8.45"/><circle cx="519.2" cy="1244.1" r="8.45"/><circle cx="504.2" cy="1242.7" r="8.45"/><circle cx="502.8" cy="1243.6" r="8.45"/><circle cx="517.8" cy="1252.6" r="8.45"/><circle cx="511.1" cy="1254.3" r="8.45"/><circle cx="535.3" cy="1241.1" r="8.45"/><circle cx="537.8" cy="1246.0" r="8.45"/><circle cx="534.7" cy="1248.3" r="8.45"/><circle cx="533.8" cy="1249.6" r="8.45"/><circle cx="520.5" cy="1249.7" r="8.45"/><circle cx="521.2" cy="1252.2" r="8.45"/><circle cx="540.5" cy="1243.3" r="8.45"/><circle cx="541.6" cy="1251.6" r="8.45"/><circle cx="543.9" cy="1259.8" r="8.45"/><circle cx="548.9" cy="1244.0" r="8.45"/><circle cx="543.5" cy="1247.8" r="8.45"/><circle cx="556.4" cy="1259.7" r="8.45"/><circle cx="547.7" cy="1240.9" r="8.45"/><circle cx="546.8" cy="1241.8" r="8.45"/><circle cx="549.2" cy="1254.1" r="8.45"/><circle cx="556.4" cy="1254.8" r="8.45"/><circle cx="547.3" cy="1253.3" r="8.45"/><circle cx="558.9" cy="1248.5" r="8.45"/><circle cx="551.9" cy="1243.0" r="8.45"/><circle cx="556.2" cy="1257.4" r="8.45"/><circle cx="556.9" cy="1252.6" r="8.45"/><circle cx="573.8" cy="1255.1" r="8.45"/><circle cx="562.7" cy="1245.6" r="8.45"/><circle cx="560.3" cy="1252.3" r="8.45"/><circle cx="568.2" cy="1247.3" r="8.45"/><circle cx="572.0" cy="1259.8" r="8.45"/><circle cx="576.3" cy="1250.9" r="8.45"/><circle cx="568.1" cy="1259.4" r="8.45"/><circle cx="570.8" cy="1253.3" r="8.45"/><circle cx="579.8" cy="1245.7" r="8.45"/><circle cx="572.9" cy="1240.7" r="8.45"/><circle cx="567.5" cy="1243.8" r="8.45"/><circle cx="579.8" cy="1258.6" r="8.45"/><circle cx="571.9" cy="1245.0" r="8.45"/><circle cx="564.3" cy="1256.6" r="8.45"/><circle cx="599.0" cy="1243.8" r="8.45"/><circle cx="586.9" cy="1253.3" r="8.45"/><circle cx="582.4" cy="1248.4" r="8.45"/><circle cx="593.4" cy="1251.4" r="8.45"/><circle cx="595.9" cy="1251.2" r="8.45"/><circle cx="589.7" cy="1255.0" r="8.45"/><circle cx="595.4" cy="1253.9" r="8.45"/><circle cx="585.0" cy="1253.2" r="8.45"/><circle cx="589.4" cy="1259.8" r="8.45"/><circle cx="583.2" cy="1244.2" r="8.45"/><circle cx="582.2" cy="1249.9" r="8.45"/><circle cx="597.9" cy="1246.2" r="8.45"/><circle cx="603.9" cy="1245.4" r="8.45"/><circle cx="600.4" cy="1244.8" r="8.45"/><circle cx="611.7" cy="1246.9" r="8.45"/><circle cx="608.2" cy="1251.1" r="8.45"/><circle cx="608.6" cy="1249.6" r="8.45"/><circle cx="618.4" cy="1246.7" r="8.45"/><circle cx="602.6" cy="1254.0" r="8.45"/><circle cx="616.8" cy="1249.6" r="8.45"/><circle cx="610.5" cy="1243.8" r="8.45"/><circle cx="612.7" cy="1257.2" r="8.45"/><circle cx="601.6" cy="1255.3" r="8.45"/><circle cx="618.4" cy="1243.4" r="8.45"/><circle cx="636.9" cy="1256.4" r="8.45"/><circle cx="636.9" cy="1247.4" r="8.45"/><circle cx="635.2" cy="1259.3" r="8.45"/><circle cx="625.7" cy="1258.8" r="8.45"/><circle cx="627.2" cy="1242.4" r="8.45"/><circle cx="624.2" cy="1249.1" r="8.45"/><circle cx="624.6" cy="1249.5" r="8.45"/><circle cx="637.1" cy="1257.3" r="8.45"/><circle cx="636.1" cy="1246.7" r="8.45"/><circle cx="638.5" cy="1249.4" r="8.45"/><circle cx="631.7" cy="1257.6" r="8.45"/><circle cx="636.9" cy="1258.3" r="8.45"/><circle cx="627.5" cy="1248.0" r="8.45"/><circle cx="625.8" cy="1255.2" r="8.45"/><circle cx="636.0" cy="1249.4" r="8.45"/><circle cx="655.3" cy="1257.0" r="8.45"/><circle cx="650.5" cy="1244.4" r="8.45"/><circle cx="641.5" cy="1256.5" r="8.45"/><circle cx="642.6" cy="1242.8" r="8.45"/><circle cx="643.0" cy="1258.0" r="8.45"/><circle cx="653.2" cy="1255.8" r="8.45"/><circle cx="641.0" cy="1259.6" r="8.45"/><circle cx="657.4" cy="1246.3" r="8.45"/><circle cx="656.4" cy="1258.4" r="8.45"/><circle cx="657.1" cy="1249.9" r="8.45"/><circle cx="658.2" cy="1259.8" r="8.45"/><circle cx="646.5" cy="1248.5" r="8.45"/><circle cx="671.9" cy="1242.3" r="8.45"/><circle cx="673.1" cy="1253.0" r="8.45"/><circle cx="677.5" cy="1256.5" r="8.45"/><circle cx="678.9" cy="1252.6" r="8.45"/><circle cx="674.2" cy="1257.5" r="8.45"/><circle cx="669.0" cy="1251.7" r="8.45"/><circle cx="672.6" cy="1251.2" r="8.45"/><circle cx="679.3" cy="1240.8" r="8.45"/><circle cx="661.3" cy="1246.4" r="8.45"/><circle cx="682.4" cy="1242.1" r="8.45"/><circle cx="695.4" cy="1254.1" r="8.45"/><circle cx="690.5" cy="1254.8" r="8.45"/><circle cx="686.4" cy="1241.2" r="8.45"/><circle cx="687.1" cy="1246.0" r="8.45"/><circle cx="692.3" cy="1253.1" r="8.45"/><circle cx="702.2" cy="1242.0" r="8.45"/><circle cx="705.2" cy="1254.4" r="8.45"/><circle cx="704.2" cy="1254.6" r="8.45"/><circle cx="715.1" cy="1247.7" r="8.45"/><circle cx="706.3" cy="1254.2" r="8.45"/><circle cx="739.9" cy="1253.0" r="8.45"/><circle cx="738.7" cy="1257.1" r="8.45"/><circle cx="734.9" cy="1251.3" r="8.45"/><circle cx="722.0" cy="1254.9" r="8.45"/><circle cx="722.6" cy="1245.7" r="8.45"/><circle cx="730.4" cy="1249.6" r="8.45"/><circle cx="755.1" cy="1250.3" r="8.45"/><circle cx="751.7" cy="1252.8" r="8.45"/><circle cx="743.0" cy="1257.5" r="8.45"/><circle cx="750.4" cy="1258.4" r="8.45"/><circle cx="745.6" cy="1246.5" r="8.45"/><circle cx="759.0" cy="1241.9" r="8.45"/><circle cx="774.8" cy="1247.2" r="8.45"/><circle cx="764.1" cy="1241.8" r="8.45"/><circle cx="773.5" cy="1252.7" r="8.45"/><circle cx="793.6" cy="1243.4" r="8.45"/><circle cx="800.6" cy="1254.5" r="8.45"/><circle cx="810.0" cy="1251.4" r="8.45"/><circle cx="380.8" cy="1262.0" r="8.45"/><circle cx="402.3" cy="1269.2" r="8.45"/><circle cx="403.2" cy="1274.8" r="8.45"/><circle cx="429.8" cy="1262.0" r="8.45"/><circle cx="432.1" cy="1264.7" r="8.45"/><circle cx="455.2" cy="1276.2" r="8.45"/><circle cx="449.6" cy="1271.0" r="8.45"/><circle cx="457.7" cy="1271.4" r="8.45"/><circle cx="446.2" cy="1261.3" r="8.45"/><circle cx="475.9" cy="1265.1" r="8.45"/><circle cx="470.5" cy="1264.5" r="8.45"/><circle cx="472.8" cy="1276.0" r="8.45"/><circle cx="464.3" cy="1269.8" r="8.45"/><circle cx="475.3" cy="1275.4" r="8.45"/><circle cx="497.4" cy="1261.0" r="8.45"/><circle cx="493.7" cy="1279.7" r="8.45"/><circle cx="481.8" cy="1261.8" r="8.45"/><circle cx="486.7" cy="1275.4" r="8.45"/><circle cx="492.4" cy="1268.6" r="8.45"/><circle cx="488.7" cy="1276.6" r="8.45"/><circle cx="512.9" cy="1272.1" r="8.45"/><circle cx="500.0" cy="1277.3" r="8.45"/><circle cx="503.1" cy="1279.8" r="8.45"/><circle cx="507.2" cy="1265.7" r="8.45"/><circle cx="502.3" cy="1268.8" r="8.45"/><circle cx="533.2" cy="1276.9" r="8.45"/><circle cx="521.3" cy="1264.3" r="8.45"/><circle cx="524.0" cy="1274.1" r="8.45"/><circle cx="537.7" cy="1264.1" r="8.45"/><circle cx="524.0" cy="1260.4" r="8.45"/><circle cx="541.5" cy="1276.2" r="8.45"/><circle cx="554.3" cy="1276.7" r="8.45"/><circle cx="553.6" cy="1275.5" r="8.45"/><circle cx="540.5" cy="1272.1" r="8.45"/><circle cx="542.7" cy="1269.0" r="8.45"/><circle cx="566.7" cy="1262.0" r="8.45"/><circle cx="565.0" cy="1266.8" r="8.45"/><circle cx="577.4" cy="1275.3" r="8.45"/><circle cx="577.2" cy="1277.8" r="8.45"/><circle cx="572.0" cy="1261.1" r="8.45"/><circle cx="579.6" cy="1269.6" r="8.45"/><circle cx="570.4" cy="1275.6" r="8.45"/><circle cx="576.5" cy="1269.5" r="8.45"/><circle cx="578.7" cy="1271.5" r="8.45"/><circle cx="568.6" cy="1267.5" r="8.45"/><circle cx="594.7" cy="1273.5" r="8.45"/><circle cx="588.8" cy="1269.1" r="8.45"/><circle cx="584.5" cy="1260.3" r="8.45"/><circle cx="594.8" cy="1271.1" r="8.45"/><circle cx="586.4" cy="1261.6" r="8.45"/><circle cx="598.9" cy="1263.4" r="8.45"/><circle cx="594.6" cy="1260.1" r="8.45"/><circle cx="581.3" cy="1260.1" r="8.45"/><circle cx="599.8" cy="1271.5" r="8.45"/><circle cx="618.0" cy="1279.6" r="8.45"/><circle cx="612.4" cy="1261.6" r="8.45"/><circle cx="617.9" cy="1260.6" r="8.45"/><circle cx="614.2" cy="1260.0" r="8.45"/><circle cx="604.7" cy="1269.8" r="8.45"/><circle cx="639.2" cy="1276.3" r="8.45"/><circle cx="634.2" cy="1269.2" r="8.45"/><circle cx="629.5" cy="1279.3" r="8.45"/><circle cx="633.7" cy="1276.8" r="8.45"/><circle cx="621.7" cy="1277.9" r="8.45"/><circle cx="622.8" cy="1267.3" r="8.45"/><circle cx="629.6" cy="1261.6" r="8.45"/><circle cx="624.6" cy="1275.3" r="8.45"/><circle cx="638.0" cy="1262.8" r="8.45"/><circle cx="639.0" cy="1272.6" r="8.45"/><circle cx="625.4" cy="1272.1" r="8.45"/><circle cx="639.5" cy="1265.3" r="8.45"/><circle cx="642.7" cy="1276.9" r="8.45"/><circle cx="654.6" cy="1260.1" r="8.45"/><circle cx="644.2" cy="1275.5" r="8.45"/><circle cx="654.7" cy="1267.7" r="8.45"/><circle cx="643.0" cy="1272.5" r="8.45"/><circle cx="652.1" cy="1266.5" r="8.45"/><circle cx="642.5" cy="1275.7" r="8.45"/><circle cx="643.8" cy="1277.1" r="8.45"/><circle cx="645.9" cy="1262.6" r="8.45"/><circle cx="641.3" cy="1266.3" r="8.45"/><circle cx="652.1" cy="1270.3" r="8.45"/><circle cx="659.1" cy="1275.1" r="8.45"/><circle cx="661.7" cy="1276.8" r="8.45"/><circle cx="679.5" cy="1273.2" r="8.45"/><circle cx="673.2" cy="1260.8" r="8.45"/><circle cx="668.3" cy="1262.0" r="8.45"/><circle cx="675.1" cy="1273.9" r="8.45"/><circle cx="670.5" cy="1272.9" r="8.45"/><circle cx="670.7" cy="1278.7" r="8.45"/><circle cx="676.9" cy="1277.4" r="8.45"/><circle cx="666.7" cy="1265.3" r="8.45"/><circle cx="699.7" cy="1271.3" r="8.45"/><circle cx="682.0" cy="1267.6" r="8.45"/><circle cx="685.7" cy="1269.8" r="8.45"/><circle cx="689.7" cy="1264.8" r="8.45"/><circle cx="691.3" cy="1278.4" r="8.45"/><circle cx="689.9" cy="1269.0" r="8.45"/><circle cx="680.8" cy="1261.0" r="8.45"/><circle cx="684.6" cy="1272.9" r="8.45"/><circle cx="680.4" cy="1273.6" r="8.45"/><circle cx="705.1" cy="1269.7" r="8.45"/><circle cx="701.2" cy="1267.6" r="8.45"/><circle cx="705.0" cy="1271.5" r="8.45"/><circle cx="714.9" cy="1276.5" r="8.45"/><circle cx="702.7" cy="1263.2" r="8.45"/><circle cx="700.5" cy="1271.1" r="8.45"/><circle cx="700.1" cy="1263.3" r="8.45"/><circle cx="705.1" cy="1269.6" r="8.45"/><circle cx="709.9" cy="1261.2" r="8.45"/><circle cx="736.8" cy="1262.6" r="8.45"/><circle cx="732.8" cy="1269.5" r="8.45"/><circle cx="738.0" cy="1269.8" r="8.45"/><circle cx="733.7" cy="1266.7" r="8.45"/><circle cx="732.2" cy="1278.7" r="8.45"/><circle cx="720.7" cy="1280.0" r="8.45"/><circle cx="732.6" cy="1274.6" r="8.45"/><circle cx="735.5" cy="1277.4" r="8.45"/><circle cx="730.2" cy="1273.5" r="8.45"/><circle cx="739.1" cy="1260.1" r="8.45"/><circle cx="741.8" cy="1275.1" r="8.45"/><circle cx="745.4" cy="1264.6" r="8.45"/><circle cx="745.3" cy="1266.7" r="8.45"/><circle cx="751.7" cy="1263.8" r="8.45"/><circle cx="754.8" cy="1266.6" r="8.45"/><circle cx="750.4" cy="1276.1" r="8.45"/><circle cx="770.2" cy="1261.8" r="8.45"/><circle cx="779.0" cy="1275.4" r="8.45"/><circle cx="787.5" cy="1268.5" r="8.45"/><circle cx="815.1" cy="1260.8" r="8.45"/><circle cx="811.7" cy="1275.4" r="8.45"/><circle cx="464.9" cy="1291.7" r="8.45"/><circle cx="460.9" cy="1290.4" r="8.45"/><circle cx="528.0" cy="1292.8" r="8.45"/><circle cx="557.6" cy="1293.2" r="8.45"/><circle cx="561.4" cy="1291.1" r="8.45"/><circle cx="563.4" cy="1289.1" r="8.45"/><circle cx="587.2" cy="1292.2" r="8.45"/><circle cx="597.5" cy="1282.5" r="8.45"/><circle cx="580.0" cy="1297.6" r="8.45"/><circle cx="585.9" cy="1284.8" r="8.45"/><circle cx="607.9" cy="1294.0" r="8.45"/><circle cx="635.2" cy="1289.6" r="8.45"/><circle cx="643.9" cy="1297.7" r="8.45"/><circle cx="646.8" cy="1293.5" r="8.45"/><circle cx="657.3" cy="1291.4" r="8.45"/><circle cx="679.7" cy="1285.3" r="8.45"/><circle cx="676.2" cy="1297.0" r="8.45"/><circle cx="677.1" cy="1297.7" r="8.45"/><circle cx="662.4" cy="1296.0" r="8.45"/><circle cx="682.2" cy="1297.9" r="8.45"/><circle cx="686.5" cy="1296.2" r="8.45"/><circle cx="692.4" cy="1295.9" r="8.45"/><circle cx="692.7" cy="1285.7" r="8.45"/><circle cx="681.4" cy="1287.8" r="8.45"/><circle cx="701.2" cy="1299.7" r="8.45"/><circle cx="704.8" cy="1291.8" r="8.45"/><circle cx="700.2" cy="1281.9" r="8.45"/><circle cx="724.2" cy="1298.4" r="8.45"/><circle cx="725.5" cy="1284.9" r="8.45"/><circle cx="730.4" cy="1280.8" r="8.45"/><circle cx="749.6" cy="1289.0" r="8.45"/></g>
<circle cx="419.0" cy="1086.1" r="8.45" fill="rgb(178,150,105)" fill-opacity="0.5"/><circle cx="491.4" cy="1086.1" r="8.45" fill="rgb(44,88,165)" fill-opacity="0.25"/><circle cx="509.3" cy="1086.1" r="8.45" fill="rgb(178,150,105)" fill-opacity="0.5"/><circle cx="517.8" cy="1086.1" r="8.45" fill="rgb(178,150,105)" fill-opacity="0.5"/><circle cx="530.0" cy="1086.1" r="8.45" fill="rgb(178,150,105)" fill-opacity="0.5"/><circle cx="547.6" cy="1086.1" r="8.45" fill="rgb(44,88,165)" fill-opacity="0.25"/><circle cx="553.3" cy="1086.1" r="8.45" fill="rgb(44,88,165)" fill-opacity="0.3"/><circle cx="553.3" cy="1086.1" r="8.45" fill="rgb(178,150,105)" fill-opacity="0.5"/><circle cx="566.0" cy="1086.1" r="8.45" fill="rgb(178,150,105)" fill-opacity="0.5"/><circle cx="588.8" cy="1086.1" r="8.45" fill="rgb(44,88,165)" fill-opacity="0.3"/><circle cx="588.8" cy="1086.1" r="8.45" fill="rgb(178,150,105)" fill-opacity="0.5"/><circle cx="598.7" cy="1086.1" r="8.45" fill="rgb(178,150,105)" fill-opacity="0.5"/><circle cx="605.8" cy="1086.1" r="8.45" fill="rgb(178,150,105)" fill-opacity="0.5"/><circle cx="624.2" cy="1086.1" r="8.45" fill="rgb(44,88,165)" fill-opacity="0.3"/><circle cx="624.2" cy="1086.1" r="8.45" fill="rgb(178,150,105)" fill-opacity="0.5"/><circle cx="627.0" cy="1086.1" r="8.45" fill="rgb(44,88,165)" fill-opacity="0.25"/><circle cx="641.3" cy="1086.1" r="8.45" fill="rgb(178,150,105)" fill-opacity="0.5"/><circle cx="649.8" cy="1086.1" r="8.45" fill="rgb(44,88,165)" fill-opacity="0.3"/><circle cx="649.8" cy="1086.1" r="8.45" fill="rgb(178,150,105)" fill-opacity="0.5"/><circle cx="659.7" cy="1086.1" r="8.45" fill="rgb(178,150,105)" fill-opacity="0.5"/><circle cx="665.4" cy="1086.1" r="8.45" fill="rgb(178,150,105)" fill-opacity="0.5"/><circle cx="693.8" cy="1086.1" r="8.45" fill="rgb(178,150,105)" fill-opacity="0.5"/><circle cx="823.4" cy="1086.1" r="8.45" fill="rgb(178,150,105)" fill-opacity="0.5"/><circle cx="856.6" cy="1086.1" r="8.45" fill="rgb(178,150,105)" fill-opacity="0.5"/>
<g fill="rgb(178,150,105)" fill-opacity="0.5"><circle cx="304.7" cy="896.7" r="8.45"/><circle cx="387.2" cy="882.2" r="8.45"/><circle cx="419.0" cy="892.6" r="8.45"/><circle cx="444.2" cy="905.4" r="8.45"/><circle cx="458.9" cy="910.0" r="8.45"/><circle cx="497.7" cy="890.3" r="8.45"/><circle cx="523.4" cy="871.8" r="8.45"/><circle cx="553.2" cy="893.0" r="8.45"/><circle cx="548.4" cy="907.0" r="8.45"/><circle cx="560.5" cy="904.3" r="8.45"/><circle cx="571.9" cy="903.9" r="8.45"/><circle cx="583.8" cy="903.0" r="8.45"/><circle cx="626.6" cy="866.7" r="8.45"/><circle cx="615.0" cy="888.8" r="8.45"/><circle cx="611.2" cy="895.4" r="8.45"/><circle cx="608.4" cy="910.0" r="8.45"/><circle cx="631.1" cy="917.2" r="8.45"/><circle cx="603.1" cy="938.9" r="8.45"/><circle cx="581.9" cy="948.4" r="8.45"/><circle cx="597.0" cy="947.5" r="8.45"/><circle cx="624.5" cy="945.6" r="8.45"/><circle cx="617.9" cy="949.3" r="8.45"/><circle cx="563.0" cy="955.0" r="8.45"/><circle cx="483.9" cy="950.3" r="8.45"/><circle cx="483.9" cy="950.3" r="8.45"/><circle cx="500.5" cy="953.1" r="8.45"/><circle cx="510.0" cy="954.0" r="8.45"/><circle cx="521.4" cy="952.2" r="8.45"/><circle cx="762.5" cy="832.4" r="8.45"/><circle cx="678.6" cy="866.1" r="8.45"/><circle cx="678.6" cy="886.9" r="8.45"/><circle cx="671.2" cy="898.3" r="8.45"/><circle cx="668.2" cy="907.7" r="8.45"/><circle cx="645.1" cy="904.9" r="8.45"/><circle cx="650.8" cy="914.3" r="8.45"/><circle cx="646.1" cy="913.4" r="8.45"/><circle cx="646.1" cy="913.4" r="8.45"/><circle cx="644.2" cy="924.7" r="8.45"/><circle cx="644.2" cy="924.7" r="8.45"/><circle cx="688.3" cy="918.1" r="8.45"/><circle cx="699.1" cy="920.0" r="8.45"/><circle cx="699.1" cy="920.0" r="8.45"/><circle cx="795.6" cy="884.1" r="8.45"/><circle cx="792.3" cy="894.5" r="8.45"/><circle cx="803.5" cy="905.8" r="8.45"/><circle cx="803.5" cy="905.8" r="8.45"/><circle cx="741.3" cy="925.3" r="8.45"/><circle cx="741.6" cy="937.0" r="8.45"/><circle cx="784.8" cy="942.7" r="8.45"/><circle cx="700.0" cy="938.9" r="8.45"/><circle cx="683.0" cy="949.3" r="8.45"/><circle cx="701.0" cy="951.2" r="8.45"/><circle cx="729.7" cy="954.1" r="8.45"/><circle cx="754.9" cy="955.0" r="8.45"/><circle cx="889.5" cy="929.1" r="8.45"/><circle cx="883.8" cy="947.8" r="8.45"/><circle cx="298.8" cy="967.1" r="8.45"/><circle cx="326.3" cy="974.1" r="8.45"/><circle cx="359.7" cy="972.2" r="8.45"/><circle cx="343.3" cy="1006.2" r="8.45"/><circle cx="336.7" cy="1015.3" r="8.45"/><circle cx="335.7" cy="1041.6" r="8.45"/><circle cx="391.9" cy="1008.5" r="8.45"/><circle cx="406.7" cy="996.8" r="8.45"/><circle cx="406.7" cy="996.8" r="8.45"/><circle cx="407.0" cy="1009.1" r="8.45"/><circle cx="421.8" cy="1003.4" r="8.45"/><circle cx="439.2" cy="1008.5" r="8.45"/><circle cx="419.0" cy="982.0" r="8.45"/><circle cx="431.6" cy="982.0" r="8.45"/><circle cx="444.9" cy="981.6" r="8.45"/><circle cx="401.4" cy="1034.0" r="8.45"/><circle cx="429.8" cy="1034.0" r="8.45"/><circle cx="436.4" cy="1034.0" r="8.45"/><circle cx="436.4" cy="1034.0" r="8.45"/><circle cx="407.0" cy="1050.7" r="8.45"/><circle cx="407.0" cy="1050.7" r="8.45"/><circle cx="410.8" cy="1050.7" r="8.45"/><circle cx="439.2" cy="1049.7" r="8.45"/><circle cx="484.1" cy="955.9" r="8.45"/><circle cx="528.4" cy="962.1" r="8.45"/><circle cx="543.1" cy="962.1" r="8.45"/><circle cx="558.5" cy="958.4" r="8.45"/><circle cx="472.4" cy="965.7" r="8.45"/><circle cx="496.4" cy="967.6" r="8.45"/><circle cx="439.8" cy="980.5" r="8.45"/><circle cx="449.7" cy="981.7" r="8.45"/><circle cx="463.2" cy="983.0" r="8.45"/><circle cx="486.6" cy="984.2" r="8.45"/><circle cx="452.8" cy="991.6" r="8.45"/><circle cx="459.5" cy="1001.4" r="8.45"/><circle cx="459.5" cy="1001.4" r="8.45"/><circle cx="459.5" cy="1001.4" r="8.45"/><circle cx="466.9" cy="1001.4" r="8.45"/><circle cx="466.9" cy="1001.4" r="8.45"/><circle cx="466.9" cy="1001.4" r="8.45"/><circle cx="475.5" cy="999.0" r="8.45"/><circle cx="475.5" cy="999.0" r="8.45"/><circle cx="475.5" cy="999.0" r="8.45"/><circle cx="481.7" cy="1003.9" r="8.45"/><circle cx="481.7" cy="1003.9" r="8.45"/><circle cx="481.7" cy="1003.9" r="8.45"/><circle cx="501.3" cy="992.8" r="8.45"/><circle cx="503.8" cy="1000.2" r="8.45"/><circle cx="503.8" cy="1000.2" r="8.45"/><circle cx="503.8" cy="1000.2" r="8.45"/><circle cx="507.5" cy="1003.9" r="8.45"/><circle cx="505.0" cy="1011.3" r="8.45"/><circle cx="458.3" cy="1013.7" r="8.45"/><circle cx="484.1" cy="1008.8" r="8.45"/><circle cx="489.0" cy="1013.7" r="8.45"/><circle cx="518.5" cy="1010.0" r="8.45"/><circle cx="537.0" cy="998.9" r="8.45"/><circle cx="537.0" cy="998.9" r="8.45"/><circle cx="537.0" cy="998.9" r="8.45"/><circle cx="544.4" cy="992.8" r="8.45"/><circle cx="548.1" cy="1003.9" r="8.45"/><circle cx="548.1" cy="1003.9" r="8.45"/><circle cx="548.1" cy="1003.9" r="8.45"/><circle cx="554.2" cy="998.9" r="8.45"/><circle cx="554.2" cy="998.9" r="8.45"/><circle cx="554.2" cy="998.9" r="8.45"/><circle cx="532.1" cy="1013.7" r="8.45"/><circle cx="544.4" cy="1013.7" r="8.45"/><circle cx="449.7" cy="1023.5" r="8.45"/><circle cx="485.3" cy="1021.1" r="8.45"/><circle cx="503.8" cy="1023.5" r="8.45"/><circle cx="525.9" cy="1021.1" r="8.45"/><circle cx="470.0" cy="995.0" r="8.45"/><circle cx="490.0" cy="1000.0" r="8.45"/><circle cx="490.0" cy="1000.0" r="8.45"/><circle cx="515.0" cy="1000.0" r="8.45"/><circle cx="528.0" cy="1005.0" r="8.45"/><circle cx="601.7" cy="952.2" r="8.45"/><circle cx="563.5" cy="958.4" r="8.45"/><circle cx="586.9" cy="960.8" r="8.45"/><circle cx="591.8" cy="965.7" r="8.45"/><circle cx="677.9" cy="952.2" r="8.45"/><circle cx="605.3" cy="959.6" r="8.45"/><circle cx="622.6" cy="964.5" r="8.45"/><circle cx="611.5" cy="970.7" r="8.45"/><circle cx="636.1" cy="971.9" r="8.45"/><circle cx="636.1" cy="971.9" r="8.45"/><circle cx="630.0" cy="974.4" r="8.45"/><circle cx="643.5" cy="975.6" r="8.45"/><circle cx="660.7" cy="969.4" r="8.45"/><circle cx="670.5" cy="980.5" r="8.45"/><circle cx="660.7" cy="984.2" r="8.45"/><circle cx="572.1" cy="986.7" r="8.45"/><circle cx="586.9" cy="984.2" r="8.45"/><circle cx="600.4" cy="986.7" r="8.45"/><circle cx="621.3" cy="986.7" r="8.45"/><circle cx="628.7" cy="991.6" r="8.45"/><circle cx="648.4" cy="994.0" r="8.45"/><circle cx="658.2" cy="994.0" r="8.45"/><circle cx="668.1" cy="996.5" r="8.45"/><circle cx="676.7" cy="984.2" r="8.45"/><circle cx="554.9" cy="992.8" r="8.45"/><circle cx="554.9" cy="992.8" r="8.45"/><circle cx="562.3" cy="994.0" r="8.45"/><circle cx="564.8" cy="1002.6" r="8.45"/><circle cx="584.4" cy="999.0" r="8.45"/><circle cx="591.8" cy="1000.2" r="8.45"/><circle cx="611.5" cy="1001.4" r="8.45"/><circle cx="623.8" cy="1000.2" r="8.45"/><circle cx="638.6" cy="1006.3" r="8.45"/><circle cx="647.2" cy="1003.9" r="8.45"/><circle cx="668.1" cy="1006.3" r="8.45"/><circle cx="677.9" cy="1003.9" r="8.45"/><circle cx="586.9" cy="1014.9" r="8.45"/><circle cx="601.7" cy="1019.9" r="8.45"/><circle cx="623.8" cy="1013.7" r="8.45"/><circle cx="643.5" cy="1013.7" r="8.45"/><circle cx="661.9" cy="1022.3" r="8.45"/><circle cx="673.0" cy="1021.1" r="8.45"/><circle cx="557.4" cy="1011.3" r="8.45"/><circle cx="730.3" cy="957.1" r="8.45"/><circle cx="755.5" cy="960.2" r="8.45"/><circle cx="746.9" cy="965.7" r="8.45"/><circle cx="694.6" cy="971.9" r="8.45"/><circle cx="694.6" cy="971.9" r="8.45"/><circle cx="692.1" cy="975.6" r="8.45"/><circle cx="773.3" cy="971.9" r="8.45"/><circle cx="741.3" cy="978.0" r="8.45"/><circle cx="757.3" cy="979.3" r="8.45"/><circle cx="757.3" cy="979.3" r="8.45"/><circle cx="773.3" cy="983.0" r="8.45"/><circle cx="773.3" cy="983.0" r="8.45"/><circle cx="681.1" cy="985.4" r="8.45"/><circle cx="709.4" cy="989.1" r="8.45"/><circle cx="729.0" cy="986.7" r="8.45"/><circle cx="737.6" cy="990.3" r="8.45"/><circle cx="748.7" cy="994.0" r="8.45"/><circle cx="748.7" cy="994.0" r="8.45"/><circle cx="767.2" cy="994.0" r="8.45"/><circle cx="797.9" cy="991.6" r="8.45"/><circle cx="673.7" cy="997.7" r="8.45"/><circle cx="673.7" cy="997.7" r="8.45"/><circle cx="689.7" cy="995.3" r="8.45"/><circle cx="703.2" cy="996.5" r="8.45"/><circle cx="681.1" cy="1005.1" r="8.45"/><circle cx="698.3" cy="1006.3" r="8.45"/><circle cx="705.7" cy="1006.3" r="8.45"/><circle cx="778.2" cy="1003.9" r="8.45"/><circle cx="791.8" cy="1005.1" r="8.45"/><circle cx="764.7" cy="1008.8" r="8.45"/><circle cx="741.3" cy="1014.9" r="8.45"/><circle cx="754.9" cy="1018.6" r="8.45"/><circle cx="720.4" cy="1018.6" r="8.45"/><circle cx="719.2" cy="1023.5" r="8.45"/><circle cx="677.4" cy="1021.1" r="8.45"/><circle cx="795.4" cy="1023.5" r="8.45"/><circle cx="846.0" cy="962.3" r="8.45"/><circle cx="866.9" cy="970.4" r="8.45"/><circle cx="877.1" cy="968.0" r="8.45"/><circle cx="825.0" cy="974.1" r="8.45"/><circle cx="832.4" cy="989.4" r="8.45"/><circle cx="845.1" cy="984.8" r="8.45"/><circle cx="845.3" cy="989.1" r="8.45"/><circle cx="852.5" cy="1001.0" r="8.45"/><circle cx="802.3" cy="992.4" r="8.45"/><circle cx="814.0" cy="998.6" r="8.45"/><circle cx="815.8" cy="1014.9" r="8.45"/><circle cx="815.8" cy="1014.9" r="8.45"/><circle cx="810.9" cy="1018.6" r="8.45"/><circle cx="839.4" cy="1015.2" r="8.45"/><circle cx="453.9" cy="1027.9" r="8.45"/><circle cx="453.9" cy="1027.9" r="8.45"/><circle cx="458.2" cy="1017.5" r="8.45"/><circle cx="498.8" cy="1017.5" r="8.45"/><circle cx="505.9" cy="1027.9" r="8.45"/><circle cx="465.6" cy="1040.8" r="8.45"/><circle cx="479.1" cy="1040.8" r="8.45"/><circle cx="488.3" cy="1050.7" r="8.45"/><circle cx="449.6" cy="1063.0" r="8.45"/><circle cx="432.4" cy="1063.0" r="8.45"/><circle cx="532.0" cy="1033.4" r="8.45"/><circle cx="532.0" cy="1033.4" r="8.45"/><circle cx="529.5" cy="1063.6" r="8.45"/><circle cx="520.9" cy="1017.5" r="8.45"/><circle cx="530.8" cy="1019.9" r="8.45"/><circle cx="441.9" cy="1032.7" r="8.45"/><circle cx="477.8" cy="1036.5" r="8.45"/><circle cx="538.4" cy="1046.0" r="8.45"/><circle cx="572.5" cy="1032.7" r="8.45"/><circle cx="583.8" cy="1040.3" r="8.45"/><circle cx="595.2" cy="1040.3" r="8.45"/><circle cx="572.5" cy="1047.9" r="8.45"/><circle cx="590.5" cy="1023.6" r="8.45"/><circle cx="607.7" cy="1023.6" r="8.45"/><circle cx="623.7" cy="1017.5" r="8.45"/><circle cx="663.1" cy="1027.3" r="8.45"/><circle cx="561.0" cy="1032.2" r="8.45"/><circle cx="561.0" cy="1032.2" r="8.45"/><circle cx="598.5" cy="1041.4" r="8.45"/><circle cx="598.5" cy="1041.4" r="8.45"/><circle cx="557.3" cy="1042.1" r="8.45"/><circle cx="557.3" cy="1042.1" r="8.45"/><circle cx="557.3" cy="1051.9" r="8.45"/><circle cx="674.1" cy="1049.4" r="8.45"/><circle cx="666.2" cy="1028.5" r="8.45"/><circle cx="719.1" cy="1028.5" r="8.45"/><circle cx="729.0" cy="1028.5" r="8.45"/><circle cx="764.6" cy="1015.0" r="8.45"/><circle cx="749.2" cy="1041.4" r="8.45"/><circle cx="783.1" cy="1034.1" r="8.45"/><circle cx="792.9" cy="1028.5" r="8.45"/><circle cx="680.7" cy="1050.7" r="8.45"/><circle cx="668.7" cy="1063.6" r="8.45"/><circle cx="736.3" cy="1063.6" r="8.45"/><circle cx="791.7" cy="1063.6" r="8.45"/><circle cx="796.1" cy="1028.5" r="8.45"/><circle cx="561.8" cy="1064.0" r="8.45"/><circle cx="571.7" cy="1064.0" r="8.45"/><circle cx="581.7" cy="1064.0" r="8.45"/><circle cx="587.3" cy="1064.0" r="8.45"/><circle cx="598.7" cy="1064.0" r="8.45"/><circle cx="604.4" cy="1064.0" r="8.45"/><circle cx="628.5" cy="1064.0" r="8.45"/><circle cx="649.8" cy="1064.0" r="8.45"/><circle cx="558.5" cy="1064.0" r="8.45"/><circle cx="565.3" cy="1064.0" r="8.45"/></g>
<g fill="rgb(236,32,32)" fill-opacity="0.93"><circle cx="373.4" cy="1015.4" r="8.45"/><circle cx="426.9" cy="976.3" r="8.45"/><circle cx="493.6" cy="999.0" r="8.45"/><circle cx="524.5" cy="1001.0" r="8.45"/><circle cx="548.2" cy="1023.3" r="8.45"/><circle cx="475.5" cy="1041.5" r="8.45"/><circle cx="544.9" cy="1064.0" r="8.45"/><circle cx="621.9" cy="1064.0" r="8.45"/><circle cx="654.2" cy="972.5" r="8.45"/></g>
<line x1="356.9" y1="1004.7" x2="367.7" y2="1012.5" stroke="#000" stroke-width="2"/>
<text class="t" x="276.60" y="1003.18" font-size="22.11" font-weight="normal" textLength="77.10" lengthAdjust="spacingAndGlyphs" >ACHA4</text>
<line x1="414.7" y1="961.2" x2="422.4" y2="971.8" stroke="#000" stroke-width="2"/>
<text class="t" x="394.30" y="954.00" font-size="22.05" font-weight="normal" textLength="53.52" lengthAdjust="spacingAndGlyphs" >YiPF1</text>
<line x1="483.1" y1="983.9" x2="491.1" y2="993.0" stroke="#000" stroke-width="2"/>
<text class="t" x="444.60" y="980.27" font-size="22.54" font-weight="normal" textLength="65.85" lengthAdjust="spacingAndGlyphs" >S38A1</text>
<line x1="537.8" y1="987.7" x2="530.4" y2="997.7" stroke="#000" stroke-width="2"/>
<text class="t" x="537.45" y="984.57" font-size="22.96" font-weight="normal" textLength="85.55" lengthAdjust="spacingAndGlyphs" >GABRA1</text>
<line x1="566.4" y1="1017.2" x2="554.5" y2="1022.3" stroke="#000" stroke-width="2"/>
<text class="t" x="569.09" y="1016.58" font-size="22.39" font-weight="normal" textLength="70.49" lengthAdjust="spacingAndGlyphs" >5HT3B</text>
<line x1="664.4" y1="954.1" x2="658.0" y2="965.1" stroke="#000" stroke-width="2"/>
<text class="t" x="629.91" y="949.47" font-size="23.10" font-weight="normal" textLength="69.78" lengthAdjust="spacingAndGlyphs" >SOAT1</text>
<line x1="531.8" y1="1052.9" x2="541.6" y2="1060.8" stroke="#000" stroke-width="2"/>
<text class="t" x="497.74" y="1050.47" font-size="22.54" font-weight="normal" textLength="57.90" lengthAdjust="spacingAndGlyphs" >GLRB</text>
<line x1="461.3" y1="1053.1" x2="471.5" y2="1044.9" stroke="#000" stroke-width="2"/>
<text class="t" x="418.17" y="1074.00" font-size="23.19" font-weight="normal" textLength="54.28" lengthAdjust="spacingAndGlyphs" >VATL</text>
<line x1="628.4" y1="1047.6" x2="621.9" y2="1058.7" stroke="#000" stroke-width="2"/>
<text class="t" x="599.86" y="1042.08" font-size="21.97" font-weight="normal" textLength="68.70" lengthAdjust="spacingAndGlyphs" >CNIH2</text>
</svg></body></html>
